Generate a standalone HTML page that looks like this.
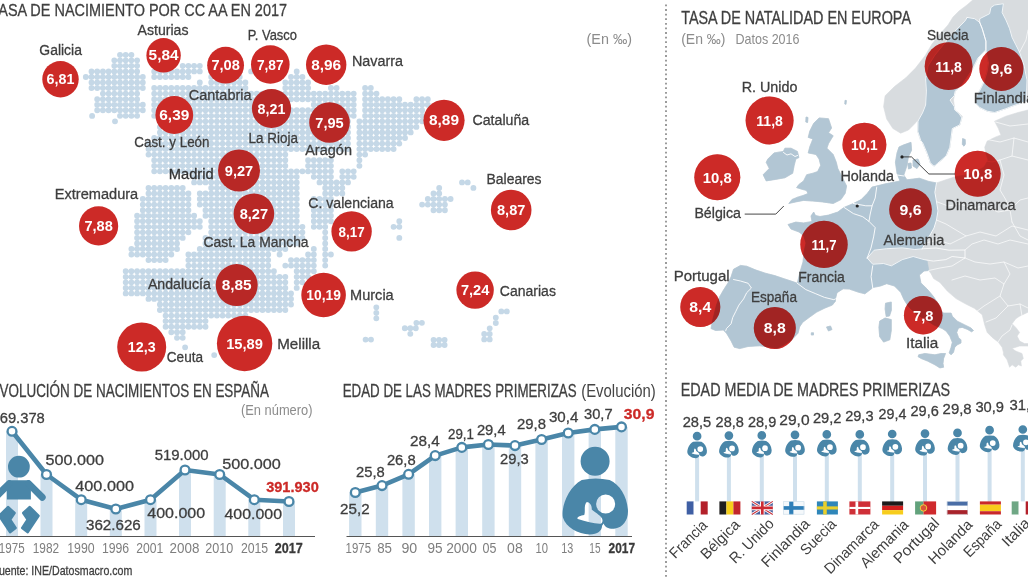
<!DOCTYPE html>
<html lang="es">
<head>
<meta charset="utf-8">
<title>Tasa de nacimiento por CC AA en 2017</title>
<style>
html,body{margin:0;padding:0;background:#fff;}
body{width:1028px;height:578px;overflow:hidden;font-family:"Liberation Sans",sans-serif;}
svg{display:block;font-family:"Liberation Sans",sans-serif;}
</style>
</head>
<body>
<svg width="1028" height="578" viewBox="0 0 1028 578">
<rect width="1028" height="578" fill="#fff"/>
<defs><filter id="soft" x="-2%" y="-2%" width="104%" height="104%"><feGaussianBlur stdDeviation="0.5"/></filter></defs><path d="M85.8 77.0h.01M91.5 71.4h.01M91.5 77.0h.01M91.5 82.5h.01M91.5 88.0h.01M97.2 71.4h.01M97.2 77.0h.01M97.2 82.5h.01M97.2 88.0h.01M97.2 99.2h.01M97.2 104.7h.01M97.2 110.2h.01M102.9 71.4h.01M102.9 77.0h.01M102.9 82.5h.01M102.9 88.0h.01M102.9 93.6h.01M102.9 99.2h.01M102.9 104.7h.01M102.9 110.2h.01M108.6 71.4h.01M108.6 77.0h.01M108.6 82.5h.01M108.6 88.0h.01M108.6 93.6h.01M108.6 99.2h.01M108.6 104.7h.01M108.6 110.2h.01M114.3 60.3h.01M114.3 65.8h.01M114.3 71.4h.01M114.3 77.0h.01M114.3 82.5h.01M114.3 88.0h.01M114.3 93.6h.01M114.3 99.2h.01M114.3 104.7h.01M114.3 110.2h.01M120.0 54.8h.01M120.0 60.3h.01M120.0 65.8h.01M120.0 71.4h.01M120.0 77.0h.01M120.0 82.5h.01M120.0 88.0h.01M120.0 93.6h.01M120.0 99.2h.01M120.0 104.7h.01M120.0 110.2h.01M120.0 115.8h.01M125.7 54.8h.01M125.7 60.3h.01M125.7 65.8h.01M125.7 71.4h.01M125.7 77.0h.01M125.7 82.5h.01M125.7 88.0h.01M125.7 93.6h.01M125.7 99.2h.01M125.7 104.7h.01M125.7 110.2h.01M125.7 115.8h.01M125.7 271.2h.01M125.7 276.8h.01M125.7 282.3h.01M125.7 287.9h.01M125.7 293.4h.01M131.4 54.8h.01M131.4 60.3h.01M131.4 65.8h.01M131.4 71.4h.01M131.4 77.0h.01M131.4 82.5h.01M131.4 88.0h.01M131.4 93.6h.01M131.4 99.2h.01M131.4 104.7h.01M131.4 110.2h.01M131.4 115.8h.01M131.4 249.0h.01M131.4 254.5h.01M131.4 271.2h.01M131.4 276.8h.01M131.4 282.3h.01M131.4 287.9h.01M131.4 293.4h.01M137.1 60.3h.01M137.1 65.8h.01M137.1 71.4h.01M137.1 77.0h.01M137.1 82.5h.01M137.1 88.0h.01M137.1 93.6h.01M137.1 99.2h.01M137.1 104.7h.01M137.1 110.2h.01M137.1 115.8h.01M137.1 215.7h.01M137.1 221.2h.01M137.1 226.8h.01M137.1 232.3h.01M137.1 237.9h.01M137.1 243.4h.01M137.1 249.0h.01M137.1 254.5h.01M137.1 271.2h.01M137.1 276.8h.01M137.1 282.3h.01M137.1 287.9h.01M137.1 293.4h.01M142.8 77.0h.01M142.8 82.5h.01M142.8 88.0h.01M142.8 104.7h.01M142.8 110.2h.01M142.8 199.0h.01M142.8 204.6h.01M142.8 210.2h.01M142.8 215.7h.01M142.8 221.2h.01M142.8 226.8h.01M142.8 232.3h.01M142.8 237.9h.01M142.8 243.4h.01M142.8 249.0h.01M142.8 254.5h.01M142.8 271.2h.01M142.8 276.8h.01M142.8 282.3h.01M142.8 287.9h.01M142.8 293.4h.01M148.5 143.6h.01M148.5 149.1h.01M148.5 154.6h.01M148.5 187.9h.01M148.5 193.5h.01M148.5 199.0h.01M148.5 204.6h.01M148.5 210.2h.01M148.5 215.7h.01M148.5 221.2h.01M148.5 226.8h.01M148.5 232.3h.01M148.5 237.9h.01M148.5 243.4h.01M148.5 249.0h.01M148.5 254.5h.01M148.5 260.1h.01M148.5 271.2h.01M148.5 276.8h.01M148.5 282.3h.01M148.5 287.9h.01M148.5 293.4h.01M148.5 298.9h.01M154.2 71.4h.01M154.2 77.0h.01M154.2 88.0h.01M154.2 93.6h.01M154.2 99.2h.01M154.2 104.7h.01M154.2 110.2h.01M154.2 115.8h.01M154.2 138.0h.01M154.2 143.6h.01M154.2 149.1h.01M154.2 154.6h.01M154.2 160.2h.01M154.2 165.8h.01M154.2 171.3h.01M154.2 187.9h.01M154.2 193.5h.01M154.2 199.0h.01M154.2 204.6h.01M154.2 210.2h.01M154.2 215.7h.01M154.2 221.2h.01M154.2 226.8h.01M154.2 232.3h.01M154.2 237.9h.01M154.2 243.4h.01M154.2 249.0h.01M154.2 254.5h.01M154.2 260.1h.01M154.2 271.2h.01M154.2 276.8h.01M154.2 282.3h.01M154.2 287.9h.01M154.2 293.4h.01M154.2 298.9h.01M159.9 71.4h.01M159.9 77.0h.01M159.9 88.0h.01M159.9 93.6h.01M159.9 99.2h.01M159.9 104.7h.01M159.9 110.2h.01M159.9 115.8h.01M159.9 121.3h.01M159.9 126.9h.01M159.9 132.4h.01M159.9 138.0h.01M159.9 143.6h.01M159.9 149.1h.01M159.9 154.6h.01M159.9 160.2h.01M159.9 165.8h.01M159.9 171.3h.01M159.9 187.9h.01M159.9 193.5h.01M159.9 199.0h.01M159.9 204.6h.01M159.9 210.2h.01M159.9 215.7h.01M159.9 221.2h.01M159.9 226.8h.01M159.9 232.3h.01M159.9 237.9h.01M159.9 243.4h.01M159.9 249.0h.01M159.9 254.5h.01M159.9 260.1h.01M159.9 271.2h.01M159.9 276.8h.01M159.9 282.3h.01M159.9 287.9h.01M159.9 293.4h.01M159.9 298.9h.01M159.9 304.5h.01M159.9 310.0h.01M165.6 71.4h.01M165.6 77.0h.01M165.6 88.0h.01M165.6 93.6h.01M165.6 99.2h.01M165.6 104.7h.01M165.6 110.2h.01M165.6 115.8h.01M165.6 121.3h.01M165.6 126.9h.01M165.6 132.4h.01M165.6 138.0h.01M165.6 143.6h.01M165.6 149.1h.01M165.6 154.6h.01M165.6 160.2h.01M165.6 165.8h.01M165.6 171.3h.01M165.6 187.9h.01M165.6 193.5h.01M165.6 199.0h.01M165.6 204.6h.01M165.6 210.2h.01M165.6 215.7h.01M165.6 221.2h.01M165.6 226.8h.01M165.6 232.3h.01M165.6 237.9h.01M165.6 243.4h.01M165.6 249.0h.01M165.6 254.5h.01M165.6 260.1h.01M165.6 271.2h.01M165.6 276.8h.01M165.6 282.3h.01M165.6 287.9h.01M165.6 293.4h.01M165.6 298.9h.01M165.6 304.5h.01M165.6 310.0h.01M165.6 315.6h.01M165.6 321.1h.01M165.6 326.7h.01M171.3 71.4h.01M171.3 77.0h.01M171.3 88.0h.01M171.3 93.6h.01M171.3 99.2h.01M171.3 104.7h.01M171.3 110.2h.01M171.3 115.8h.01M171.3 121.3h.01M171.3 126.9h.01M171.3 132.4h.01M171.3 138.0h.01M171.3 143.6h.01M171.3 149.1h.01M171.3 154.6h.01M171.3 160.2h.01M171.3 165.8h.01M171.3 171.3h.01M171.3 187.9h.01M171.3 193.5h.01M171.3 199.0h.01M171.3 204.6h.01M171.3 210.2h.01M171.3 215.7h.01M171.3 221.2h.01M171.3 226.8h.01M171.3 232.3h.01M171.3 237.9h.01M171.3 243.4h.01M171.3 249.0h.01M171.3 254.5h.01M171.3 271.2h.01M171.3 276.8h.01M171.3 282.3h.01M171.3 287.9h.01M171.3 293.4h.01M171.3 298.9h.01M171.3 304.5h.01M171.3 310.0h.01M171.3 315.6h.01M171.3 321.1h.01M171.3 326.7h.01M171.3 332.2h.01M177.0 71.4h.01M177.0 77.0h.01M177.0 88.0h.01M177.0 93.6h.01M177.0 99.2h.01M177.0 104.7h.01M177.0 110.2h.01M177.0 115.8h.01M177.0 121.3h.01M177.0 126.9h.01M177.0 132.4h.01M177.0 138.0h.01M177.0 143.6h.01M177.0 149.1h.01M177.0 154.6h.01M177.0 160.2h.01M177.0 165.8h.01M177.0 171.3h.01M177.0 187.9h.01M177.0 193.5h.01M177.0 199.0h.01M177.0 204.6h.01M177.0 210.2h.01M177.0 215.7h.01M177.0 221.2h.01M177.0 226.8h.01M177.0 232.3h.01M177.0 237.9h.01M177.0 243.4h.01M177.0 249.0h.01M177.0 271.2h.01M177.0 276.8h.01M177.0 282.3h.01M177.0 287.9h.01M177.0 293.4h.01M177.0 298.9h.01M177.0 304.5h.01M177.0 310.0h.01M177.0 315.6h.01M177.0 321.1h.01M177.0 326.7h.01M177.0 332.2h.01M177.0 337.8h.01M182.7 65.8h.01M182.7 71.4h.01M182.7 77.0h.01M182.7 88.0h.01M182.7 93.6h.01M182.7 99.2h.01M182.7 104.7h.01M182.7 110.2h.01M182.7 115.8h.01M182.7 121.3h.01M182.7 126.9h.01M182.7 132.4h.01M182.7 138.0h.01M182.7 143.6h.01M182.7 149.1h.01M182.7 154.6h.01M182.7 160.2h.01M182.7 165.8h.01M182.7 171.3h.01M182.7 187.9h.01M182.7 193.5h.01M182.7 199.0h.01M182.7 204.6h.01M182.7 210.2h.01M182.7 215.7h.01M182.7 221.2h.01M182.7 226.8h.01M182.7 232.3h.01M182.7 237.9h.01M182.7 271.2h.01M182.7 276.8h.01M182.7 282.3h.01M182.7 287.9h.01M182.7 293.4h.01M182.7 298.9h.01M182.7 304.5h.01M182.7 310.0h.01M182.7 315.6h.01M182.7 321.1h.01M182.7 326.7h.01M182.7 332.2h.01M182.7 337.8h.01M188.4 65.8h.01M188.4 71.4h.01M188.4 77.0h.01M188.4 88.0h.01M188.4 93.6h.01M188.4 99.2h.01M188.4 104.7h.01M188.4 110.2h.01M188.4 115.8h.01M188.4 121.3h.01M188.4 126.9h.01M188.4 132.4h.01M188.4 138.0h.01M188.4 143.6h.01M188.4 149.1h.01M188.4 154.6h.01M188.4 160.2h.01M188.4 165.8h.01M188.4 171.3h.01M188.4 193.5h.01M188.4 199.0h.01M188.4 204.6h.01M188.4 210.2h.01M188.4 215.7h.01M188.4 221.2h.01M188.4 226.8h.01M188.4 232.3h.01M188.4 254.5h.01M188.4 260.1h.01M188.4 265.6h.01M188.4 271.2h.01M188.4 276.8h.01M188.4 282.3h.01M188.4 287.9h.01M188.4 293.4h.01M188.4 298.9h.01M188.4 304.5h.01M188.4 310.0h.01M188.4 315.6h.01M188.4 321.1h.01M188.4 326.7h.01M194.1 65.8h.01M194.1 71.4h.01M194.1 88.0h.01M194.1 93.6h.01M194.1 99.2h.01M194.1 104.7h.01M194.1 110.2h.01M194.1 115.8h.01M194.1 121.3h.01M194.1 126.9h.01M194.1 132.4h.01M194.1 138.0h.01M194.1 143.6h.01M194.1 149.1h.01M194.1 154.6h.01M194.1 160.2h.01M194.1 165.8h.01M194.1 171.3h.01M194.1 176.8h.01M194.1 182.4h.01M194.1 215.7h.01M194.1 221.2h.01M194.1 226.8h.01M194.1 254.5h.01M194.1 260.1h.01M194.1 265.6h.01M194.1 271.2h.01M194.1 276.8h.01M194.1 282.3h.01M194.1 287.9h.01M194.1 293.4h.01M194.1 298.9h.01M194.1 304.5h.01M194.1 310.0h.01M194.1 315.6h.01M194.1 321.1h.01M194.1 326.7h.01M199.8 65.8h.01M199.8 71.4h.01M199.8 82.5h.01M199.8 88.0h.01M199.8 93.6h.01M199.8 99.2h.01M199.8 104.7h.01M199.8 110.2h.01M199.8 115.8h.01M199.8 121.3h.01M199.8 126.9h.01M199.8 132.4h.01M199.8 138.0h.01M199.8 143.6h.01M199.8 149.1h.01M199.8 154.6h.01M199.8 160.2h.01M199.8 165.8h.01M199.8 171.3h.01M199.8 176.8h.01M199.8 182.4h.01M199.8 193.5h.01M199.8 199.0h.01M199.8 204.6h.01M199.8 221.2h.01M199.8 226.8h.01M199.8 249.0h.01M199.8 254.5h.01M199.8 260.1h.01M199.8 265.6h.01M199.8 271.2h.01M199.8 276.8h.01M199.8 282.3h.01M199.8 287.9h.01M199.8 293.4h.01M199.8 298.9h.01M199.8 304.5h.01M199.8 310.0h.01M199.8 315.6h.01M199.8 321.1h.01M199.8 326.7h.01M205.5 88.0h.01M205.5 93.6h.01M205.5 99.2h.01M205.5 104.7h.01M205.5 110.2h.01M205.5 115.8h.01M205.5 121.3h.01M205.5 126.9h.01M205.5 132.4h.01M205.5 138.0h.01M205.5 143.6h.01M205.5 149.1h.01M205.5 154.6h.01M205.5 160.2h.01M205.5 165.8h.01M205.5 171.3h.01M205.5 176.8h.01M205.5 182.4h.01M205.5 193.5h.01M205.5 199.0h.01M205.5 204.6h.01M205.5 210.2h.01M205.5 215.7h.01M205.5 237.9h.01M205.5 243.4h.01M205.5 249.0h.01M205.5 254.5h.01M205.5 260.1h.01M205.5 265.6h.01M205.5 271.2h.01M205.5 276.8h.01M205.5 282.3h.01M205.5 287.9h.01M205.5 293.4h.01M205.5 298.9h.01M205.5 304.5h.01M205.5 310.0h.01M205.5 315.6h.01M205.5 321.1h.01M205.5 326.7h.01M211.2 65.8h.01M211.2 71.4h.01M211.2 77.0h.01M211.2 82.5h.01M211.2 88.0h.01M211.2 93.6h.01M211.2 99.2h.01M211.2 104.7h.01M211.2 110.2h.01M211.2 115.8h.01M211.2 121.3h.01M211.2 126.9h.01M211.2 132.4h.01M211.2 138.0h.01M211.2 143.6h.01M211.2 149.1h.01M211.2 154.6h.01M211.2 160.2h.01M211.2 165.8h.01M211.2 171.3h.01M211.2 176.8h.01M211.2 182.4h.01M211.2 187.9h.01M211.2 193.5h.01M211.2 199.0h.01M211.2 204.6h.01M211.2 210.2h.01M211.2 215.7h.01M211.2 221.2h.01M211.2 226.8h.01M211.2 232.3h.01M211.2 237.9h.01M211.2 243.4h.01M211.2 249.0h.01M211.2 254.5h.01M211.2 260.1h.01M211.2 265.6h.01M211.2 271.2h.01M211.2 276.8h.01M211.2 282.3h.01M211.2 287.9h.01M211.2 293.4h.01M211.2 298.9h.01M211.2 304.5h.01M211.2 310.0h.01M211.2 315.6h.01M216.9 65.8h.01M216.9 71.4h.01M216.9 77.0h.01M216.9 82.5h.01M216.9 88.0h.01M216.9 93.6h.01M216.9 99.2h.01M216.9 104.7h.01M216.9 110.2h.01M216.9 115.8h.01M216.9 121.3h.01M216.9 126.9h.01M216.9 132.4h.01M216.9 138.0h.01M216.9 143.6h.01M216.9 149.1h.01M216.9 154.6h.01M216.9 160.2h.01M216.9 165.8h.01M216.9 171.3h.01M216.9 176.8h.01M216.9 182.4h.01M216.9 187.9h.01M216.9 193.5h.01M216.9 199.0h.01M216.9 204.6h.01M216.9 210.2h.01M216.9 215.7h.01M216.9 221.2h.01M216.9 226.8h.01M216.9 232.3h.01M216.9 237.9h.01M216.9 243.4h.01M216.9 249.0h.01M216.9 254.5h.01M216.9 260.1h.01M216.9 265.6h.01M216.9 271.2h.01M216.9 276.8h.01M216.9 282.3h.01M216.9 287.9h.01M216.9 293.4h.01M216.9 298.9h.01M216.9 304.5h.01M216.9 310.0h.01M216.9 315.6h.01M222.6 65.8h.01M222.6 71.4h.01M222.6 77.0h.01M222.6 82.5h.01M222.6 88.0h.01M222.6 93.6h.01M222.6 99.2h.01M222.6 104.7h.01M222.6 110.2h.01M222.6 115.8h.01M222.6 121.3h.01M222.6 126.9h.01M222.6 132.4h.01M222.6 138.0h.01M222.6 143.6h.01M222.6 149.1h.01M222.6 154.6h.01M222.6 160.2h.01M222.6 165.8h.01M222.6 171.3h.01M222.6 176.8h.01M222.6 182.4h.01M222.6 187.9h.01M222.6 193.5h.01M222.6 199.0h.01M222.6 204.6h.01M222.6 210.2h.01M222.6 215.7h.01M222.6 221.2h.01M222.6 226.8h.01M222.6 232.3h.01M222.6 237.9h.01M222.6 243.4h.01M222.6 249.0h.01M222.6 254.5h.01M222.6 260.1h.01M222.6 265.6h.01M222.6 271.2h.01M222.6 276.8h.01M222.6 282.3h.01M222.6 287.9h.01M222.6 293.4h.01M222.6 298.9h.01M222.6 304.5h.01M222.6 310.0h.01M222.6 315.6h.01M228.3 65.8h.01M228.3 71.4h.01M228.3 77.0h.01M228.3 82.5h.01M228.3 88.0h.01M228.3 93.6h.01M228.3 99.2h.01M228.3 104.7h.01M228.3 110.2h.01M228.3 115.8h.01M228.3 121.3h.01M228.3 126.9h.01M228.3 132.4h.01M228.3 138.0h.01M228.3 143.6h.01M228.3 149.1h.01M228.3 154.6h.01M228.3 160.2h.01M228.3 165.8h.01M228.3 171.3h.01M228.3 176.8h.01M228.3 182.4h.01M228.3 187.9h.01M228.3 193.5h.01M228.3 199.0h.01M228.3 204.6h.01M228.3 210.2h.01M228.3 215.7h.01M228.3 221.2h.01M228.3 226.8h.01M228.3 232.3h.01M228.3 237.9h.01M228.3 243.4h.01M228.3 249.0h.01M228.3 254.5h.01M228.3 260.1h.01M228.3 265.6h.01M228.3 271.2h.01M228.3 276.8h.01M228.3 282.3h.01M228.3 287.9h.01M228.3 293.4h.01M228.3 298.9h.01M228.3 304.5h.01M228.3 310.0h.01M228.3 315.6h.01M234.0 65.8h.01M234.0 71.4h.01M234.0 77.0h.01M234.0 82.5h.01M234.0 88.0h.01M234.0 93.6h.01M234.0 99.2h.01M234.0 104.7h.01M234.0 110.2h.01M234.0 115.8h.01M234.0 121.3h.01M234.0 126.9h.01M234.0 132.4h.01M234.0 138.0h.01M234.0 143.6h.01M234.0 149.1h.01M234.0 154.6h.01M234.0 160.2h.01M234.0 165.8h.01M234.0 171.3h.01M234.0 176.8h.01M234.0 182.4h.01M234.0 187.9h.01M234.0 193.5h.01M234.0 199.0h.01M234.0 204.6h.01M234.0 210.2h.01M234.0 215.7h.01M234.0 221.2h.01M234.0 226.8h.01M234.0 232.3h.01M234.0 237.9h.01M234.0 243.4h.01M234.0 249.0h.01M234.0 254.5h.01M234.0 260.1h.01M234.0 265.6h.01M234.0 271.2h.01M234.0 276.8h.01M234.0 282.3h.01M234.0 287.9h.01M234.0 293.4h.01M234.0 298.9h.01M234.0 304.5h.01M234.0 310.0h.01M234.0 315.6h.01M239.7 65.8h.01M239.7 71.4h.01M239.7 77.0h.01M239.7 82.5h.01M239.7 88.0h.01M239.7 93.6h.01M239.7 99.2h.01M239.7 104.7h.01M239.7 110.2h.01M239.7 115.8h.01M239.7 121.3h.01M239.7 126.9h.01M239.7 132.4h.01M239.7 138.0h.01M239.7 143.6h.01M239.7 149.1h.01M239.7 154.6h.01M239.7 160.2h.01M239.7 165.8h.01M239.7 171.3h.01M239.7 176.8h.01M239.7 182.4h.01M239.7 187.9h.01M239.7 193.5h.01M239.7 199.0h.01M239.7 204.6h.01M239.7 210.2h.01M239.7 215.7h.01M239.7 221.2h.01M239.7 226.8h.01M239.7 232.3h.01M239.7 237.9h.01M239.7 243.4h.01M239.7 249.0h.01M239.7 254.5h.01M239.7 260.1h.01M239.7 265.6h.01M239.7 271.2h.01M239.7 276.8h.01M239.7 282.3h.01M239.7 287.9h.01M239.7 293.4h.01M239.7 298.9h.01M239.7 304.5h.01M239.7 310.0h.01M239.7 315.6h.01M245.4 82.5h.01M245.4 88.0h.01M245.4 93.6h.01M245.4 99.2h.01M245.4 104.7h.01M245.4 110.2h.01M245.4 115.8h.01M245.4 121.3h.01M245.4 126.9h.01M245.4 132.4h.01M245.4 138.0h.01M245.4 143.6h.01M245.4 149.1h.01M245.4 154.6h.01M245.4 160.2h.01M245.4 165.8h.01M245.4 171.3h.01M245.4 176.8h.01M245.4 182.4h.01M245.4 187.9h.01M245.4 193.5h.01M245.4 199.0h.01M245.4 204.6h.01M245.4 210.2h.01M245.4 215.7h.01M245.4 221.2h.01M245.4 226.8h.01M245.4 232.3h.01M245.4 237.9h.01M245.4 243.4h.01M245.4 249.0h.01M245.4 254.5h.01M245.4 260.1h.01M245.4 265.6h.01M245.4 271.2h.01M245.4 276.8h.01M245.4 282.3h.01M245.4 287.9h.01M245.4 293.4h.01M245.4 298.9h.01M245.4 304.5h.01M245.4 310.0h.01M245.4 315.6h.01M251.1 71.4h.01M251.1 93.6h.01M251.1 99.2h.01M251.1 104.7h.01M251.1 110.2h.01M251.1 115.8h.01M251.1 121.3h.01M251.1 126.9h.01M251.1 132.4h.01M251.1 138.0h.01M251.1 143.6h.01M251.1 149.1h.01M251.1 154.6h.01M251.1 160.2h.01M251.1 165.8h.01M251.1 171.3h.01M251.1 176.8h.01M251.1 182.4h.01M251.1 187.9h.01M251.1 193.5h.01M251.1 199.0h.01M251.1 204.6h.01M251.1 210.2h.01M251.1 215.7h.01M251.1 221.2h.01M251.1 226.8h.01M251.1 232.3h.01M251.1 237.9h.01M251.1 243.4h.01M251.1 249.0h.01M251.1 254.5h.01M251.1 260.1h.01M251.1 265.6h.01M251.1 271.2h.01M251.1 276.8h.01M251.1 282.3h.01M251.1 287.9h.01M251.1 293.4h.01M251.1 298.9h.01M251.1 304.5h.01M251.1 310.0h.01M256.8 71.4h.01M256.8 93.6h.01M256.8 99.2h.01M256.8 104.7h.01M256.8 110.2h.01M256.8 115.8h.01M256.8 121.3h.01M256.8 126.9h.01M256.8 132.4h.01M256.8 138.0h.01M256.8 143.6h.01M256.8 149.1h.01M256.8 154.6h.01M256.8 160.2h.01M256.8 165.8h.01M256.8 171.3h.01M256.8 176.8h.01M256.8 182.4h.01M256.8 187.9h.01M256.8 193.5h.01M256.8 199.0h.01M256.8 204.6h.01M256.8 210.2h.01M256.8 215.7h.01M256.8 221.2h.01M256.8 226.8h.01M256.8 232.3h.01M256.8 237.9h.01M256.8 243.4h.01M256.8 249.0h.01M256.8 254.5h.01M256.8 260.1h.01M256.8 265.6h.01M256.8 271.2h.01M256.8 276.8h.01M256.8 282.3h.01M256.8 287.9h.01M256.8 293.4h.01M256.8 298.9h.01M256.8 304.5h.01M256.8 310.0h.01M262.5 71.4h.01M262.5 93.6h.01M262.5 99.2h.01M262.5 104.7h.01M262.5 110.2h.01M262.5 115.8h.01M262.5 121.3h.01M262.5 126.9h.01M262.5 132.4h.01M262.5 138.0h.01M262.5 143.6h.01M262.5 149.1h.01M262.5 154.6h.01M262.5 160.2h.01M262.5 165.8h.01M262.5 171.3h.01M262.5 176.8h.01M262.5 182.4h.01M262.5 187.9h.01M262.5 193.5h.01M262.5 199.0h.01M262.5 204.6h.01M262.5 210.2h.01M262.5 215.7h.01M262.5 221.2h.01M262.5 226.8h.01M262.5 232.3h.01M262.5 237.9h.01M262.5 243.4h.01M262.5 249.0h.01M262.5 254.5h.01M262.5 260.1h.01M262.5 265.6h.01M262.5 271.2h.01M262.5 276.8h.01M262.5 282.3h.01M262.5 287.9h.01M262.5 293.4h.01M262.5 298.9h.01M262.5 304.5h.01M262.5 310.0h.01M268.2 71.4h.01M268.2 93.6h.01M268.2 99.2h.01M268.2 104.7h.01M268.2 110.2h.01M268.2 115.8h.01M268.2 121.3h.01M268.2 126.9h.01M268.2 132.4h.01M268.2 138.0h.01M268.2 143.6h.01M268.2 149.1h.01M268.2 154.6h.01M268.2 160.2h.01M268.2 165.8h.01M268.2 171.3h.01M268.2 176.8h.01M268.2 182.4h.01M268.2 187.9h.01M268.2 193.5h.01M268.2 199.0h.01M268.2 204.6h.01M268.2 210.2h.01M268.2 215.7h.01M268.2 221.2h.01M268.2 226.8h.01M268.2 232.3h.01M268.2 237.9h.01M268.2 243.4h.01M268.2 249.0h.01M268.2 254.5h.01M268.2 260.1h.01M268.2 265.6h.01M268.2 271.2h.01M268.2 276.8h.01M268.2 282.3h.01M268.2 287.9h.01M268.2 293.4h.01M268.2 298.9h.01M268.2 304.5h.01M268.2 310.0h.01M273.9 71.4h.01M273.9 93.6h.01M273.9 99.2h.01M273.9 104.7h.01M273.9 110.2h.01M273.9 115.8h.01M273.9 121.3h.01M273.9 126.9h.01M273.9 132.4h.01M273.9 138.0h.01M273.9 143.6h.01M273.9 149.1h.01M273.9 154.6h.01M273.9 160.2h.01M273.9 165.8h.01M273.9 171.3h.01M273.9 176.8h.01M273.9 182.4h.01M273.9 187.9h.01M273.9 193.5h.01M273.9 199.0h.01M273.9 204.6h.01M273.9 210.2h.01M273.9 215.7h.01M273.9 221.2h.01M273.9 226.8h.01M273.9 232.3h.01M273.9 237.9h.01M273.9 243.4h.01M273.9 249.0h.01M273.9 271.2h.01M273.9 276.8h.01M273.9 282.3h.01M273.9 287.9h.01M273.9 293.4h.01M273.9 298.9h.01M273.9 304.5h.01M273.9 310.0h.01M279.6 71.4h.01M279.6 93.6h.01M279.6 99.2h.01M279.6 104.7h.01M279.6 110.2h.01M279.6 115.8h.01M279.6 121.3h.01M279.6 126.9h.01M279.6 132.4h.01M279.6 138.0h.01M279.6 143.6h.01M279.6 149.1h.01M279.6 154.6h.01M279.6 160.2h.01M279.6 165.8h.01M279.6 171.3h.01M279.6 176.8h.01M279.6 182.4h.01M279.6 187.9h.01M279.6 193.5h.01M279.6 199.0h.01M279.6 204.6h.01M279.6 210.2h.01M279.6 215.7h.01M279.6 221.2h.01M279.6 226.8h.01M279.6 232.3h.01M279.6 237.9h.01M279.6 243.4h.01M279.6 249.0h.01M279.6 254.5h.01M279.6 276.8h.01M279.6 282.3h.01M279.6 287.9h.01M279.6 293.4h.01M279.6 298.9h.01M279.6 304.5h.01M279.6 310.0h.01M285.3 82.5h.01M285.3 88.0h.01M285.3 93.6h.01M285.3 99.2h.01M285.3 110.2h.01M285.3 115.8h.01M285.3 121.3h.01M285.3 126.9h.01M285.3 132.4h.01M285.3 138.0h.01M285.3 143.6h.01M285.3 149.1h.01M285.3 154.6h.01M285.3 160.2h.01M285.3 165.8h.01M285.3 171.3h.01M285.3 176.8h.01M285.3 182.4h.01M285.3 187.9h.01M285.3 193.5h.01M285.3 199.0h.01M285.3 204.6h.01M285.3 210.2h.01M285.3 215.7h.01M285.3 221.2h.01M285.3 226.8h.01M285.3 232.3h.01M285.3 237.9h.01M285.3 243.4h.01M285.3 249.0h.01M285.3 265.6h.01M285.3 276.8h.01M285.3 282.3h.01M285.3 287.9h.01M285.3 293.4h.01M285.3 298.9h.01M285.3 304.5h.01M285.3 310.0h.01M291.0 77.0h.01M291.0 82.5h.01M291.0 88.0h.01M291.0 93.6h.01M291.0 99.2h.01M291.0 110.2h.01M291.0 115.8h.01M291.0 121.3h.01M291.0 126.9h.01M291.0 132.4h.01M291.0 138.0h.01M291.0 143.6h.01M291.0 149.1h.01M291.0 171.3h.01M291.0 176.8h.01M291.0 182.4h.01M291.0 187.9h.01M291.0 193.5h.01M291.0 199.0h.01M291.0 204.6h.01M291.0 210.2h.01M291.0 215.7h.01M291.0 221.2h.01M291.0 226.8h.01M291.0 232.3h.01M291.0 237.9h.01M291.0 243.4h.01M291.0 260.1h.01M291.0 265.6h.01M291.0 293.4h.01M291.0 298.9h.01M291.0 304.5h.01M296.7 71.4h.01M296.7 77.0h.01M296.7 82.5h.01M296.7 88.0h.01M296.7 93.6h.01M296.7 99.2h.01M296.7 110.2h.01M296.7 115.8h.01M296.7 121.3h.01M296.7 126.9h.01M296.7 132.4h.01M296.7 138.0h.01M296.7 143.6h.01M296.7 149.1h.01M296.7 171.3h.01M296.7 176.8h.01M296.7 182.4h.01M296.7 187.9h.01M296.7 193.5h.01M296.7 199.0h.01M296.7 204.6h.01M296.7 210.2h.01M296.7 215.7h.01M296.7 221.2h.01M296.7 226.8h.01M296.7 232.3h.01M296.7 237.9h.01M296.7 243.4h.01M296.7 260.1h.01M296.7 265.6h.01M296.7 271.2h.01M296.7 276.8h.01M296.7 282.3h.01M296.7 287.9h.01M302.4 77.0h.01M302.4 82.5h.01M302.4 88.0h.01M302.4 93.6h.01M302.4 99.2h.01M302.4 110.2h.01M302.4 115.8h.01M302.4 121.3h.01M302.4 126.9h.01M302.4 132.4h.01M302.4 138.0h.01M302.4 143.6h.01M302.4 149.1h.01M302.4 171.3h.01M302.4 226.8h.01M302.4 232.3h.01M302.4 237.9h.01M302.4 260.1h.01M302.4 265.6h.01M302.4 271.2h.01M302.4 276.8h.01M302.4 282.3h.01M308.1 82.5h.01M308.1 88.0h.01M308.1 93.6h.01M308.1 99.2h.01M308.1 110.2h.01M308.1 115.8h.01M308.1 121.3h.01M308.1 126.9h.01M308.1 132.4h.01M308.1 138.0h.01M308.1 143.6h.01M308.1 149.1h.01M308.1 160.2h.01M308.1 165.8h.01M308.1 171.3h.01M308.1 254.5h.01M308.1 260.1h.01M308.1 265.6h.01M308.1 271.2h.01M308.1 276.8h.01M313.8 93.6h.01M313.8 99.2h.01M313.8 104.7h.01M313.8 110.2h.01M313.8 115.8h.01M313.8 121.3h.01M313.8 126.9h.01M313.8 132.4h.01M313.8 138.0h.01M313.8 143.6h.01M313.8 149.1h.01M313.8 160.2h.01M313.8 165.8h.01M313.8 171.3h.01M313.8 176.8h.01M313.8 199.0h.01M313.8 204.6h.01M313.8 210.2h.01M313.8 215.7h.01M313.8 221.2h.01M313.8 226.8h.01M313.8 249.0h.01M313.8 254.5h.01M313.8 260.1h.01M313.8 265.6h.01M313.8 271.2h.01M319.5 93.6h.01M319.5 99.2h.01M319.5 104.7h.01M319.5 110.2h.01M319.5 115.8h.01M319.5 121.3h.01M319.5 126.9h.01M319.5 132.4h.01M319.5 138.0h.01M319.5 143.6h.01M319.5 149.1h.01M319.5 160.2h.01M319.5 165.8h.01M319.5 171.3h.01M319.5 176.8h.01M319.5 182.4h.01M319.5 199.0h.01M319.5 204.6h.01M319.5 210.2h.01M319.5 215.7h.01M319.5 221.2h.01M319.5 226.8h.01M325.2 93.6h.01M325.2 99.2h.01M325.2 104.7h.01M325.2 110.2h.01M325.2 115.8h.01M325.2 121.3h.01M325.2 126.9h.01M325.2 132.4h.01M325.2 138.0h.01M325.2 143.6h.01M325.2 149.1h.01M325.2 160.2h.01M325.2 165.8h.01M325.2 171.3h.01M325.2 176.8h.01M325.2 182.4h.01M325.2 187.9h.01M325.2 193.5h.01M325.2 199.0h.01M325.2 204.6h.01M325.2 210.2h.01M325.2 215.7h.01M325.2 221.2h.01M325.2 226.8h.01M325.2 232.3h.01M325.2 237.9h.01M325.2 243.4h.01M325.2 249.0h.01M325.2 254.5h.01M325.2 260.1h.01M325.2 265.6h.01M330.9 88.0h.01M330.9 93.6h.01M330.9 99.2h.01M330.9 104.7h.01M330.9 110.2h.01M330.9 115.8h.01M330.9 121.3h.01M330.9 126.9h.01M330.9 132.4h.01M330.9 138.0h.01M330.9 143.6h.01M330.9 149.1h.01M330.9 160.2h.01M330.9 165.8h.01M330.9 171.3h.01M330.9 176.8h.01M330.9 182.4h.01M330.9 187.9h.01M330.9 193.5h.01M330.9 199.0h.01M330.9 204.6h.01M330.9 210.2h.01M330.9 215.7h.01M330.9 221.2h.01M330.9 254.5h.01M336.6 88.0h.01M336.6 93.6h.01M336.6 99.2h.01M336.6 104.7h.01M336.6 110.2h.01M336.6 115.8h.01M336.6 121.3h.01M336.6 126.9h.01M336.6 132.4h.01M336.6 138.0h.01M336.6 143.6h.01M336.6 149.1h.01M336.6 182.4h.01M336.6 187.9h.01M336.6 193.5h.01M342.3 93.6h.01M342.3 99.2h.01M342.3 104.7h.01M342.3 110.2h.01M342.3 115.8h.01M342.3 121.3h.01M342.3 126.9h.01M342.3 132.4h.01M342.3 138.0h.01M342.3 143.6h.01M342.3 149.1h.01M342.3 171.3h.01M342.3 176.8h.01M342.3 182.4h.01M342.3 187.9h.01M342.3 193.5h.01M348.0 93.6h.01M348.0 99.2h.01M348.0 104.7h.01M348.0 110.2h.01M348.0 115.8h.01M348.0 121.3h.01M348.0 126.9h.01M348.0 132.4h.01M348.0 138.0h.01M348.0 143.6h.01M348.0 149.1h.01M348.0 171.3h.01M348.0 176.8h.01M348.0 182.4h.01M353.7 93.6h.01M353.7 99.2h.01M353.7 104.7h.01M353.7 110.2h.01M353.7 115.8h.01M353.7 171.3h.01M353.7 176.8h.01M359.4 121.3h.01M359.4 126.9h.01M359.4 132.4h.01M359.4 138.0h.01M359.4 143.6h.01M359.4 149.1h.01M359.4 154.6h.01M359.4 160.2h.01M359.4 165.8h.01M365.1 88.0h.01M365.1 93.6h.01M365.1 99.2h.01M365.1 104.7h.01M365.1 110.2h.01M365.1 115.8h.01M365.1 121.3h.01M365.1 126.9h.01M365.1 132.4h.01M365.1 138.0h.01M365.1 143.6h.01M365.1 149.1h.01M365.1 154.6h.01M370.8 88.0h.01M370.8 93.6h.01M370.8 99.2h.01M370.8 104.7h.01M370.8 110.2h.01M370.8 115.8h.01M370.8 121.3h.01M370.8 126.9h.01M370.8 132.4h.01M370.8 138.0h.01M370.8 143.6h.01M370.8 149.1h.01M376.5 93.6h.01M376.5 99.2h.01M376.5 104.7h.01M376.5 110.2h.01M376.5 115.8h.01M376.5 121.3h.01M376.5 126.9h.01M376.5 132.4h.01M376.5 138.0h.01M376.5 143.6h.01M376.5 149.1h.01M382.2 99.2h.01M382.2 104.7h.01M382.2 110.2h.01M382.2 115.8h.01M382.2 121.3h.01M382.2 126.9h.01M382.2 132.4h.01M382.2 138.0h.01M382.2 143.6h.01M382.2 149.1h.01M387.9 99.2h.01M387.9 104.7h.01M387.9 110.2h.01M387.9 115.8h.01M387.9 121.3h.01M387.9 126.9h.01M387.9 132.4h.01M387.9 138.0h.01M387.9 143.6h.01M387.9 149.1h.01M393.6 99.2h.01M393.6 104.7h.01M393.6 110.2h.01M393.6 115.8h.01M393.6 121.3h.01M393.6 126.9h.01M393.6 132.4h.01M393.6 138.0h.01M393.6 143.6h.01M393.6 149.1h.01M399.3 99.2h.01M399.3 104.7h.01M399.3 110.2h.01M399.3 115.8h.01M399.3 121.3h.01M399.3 126.9h.01M399.3 132.4h.01M399.3 138.0h.01M399.3 143.6h.01M405.0 104.7h.01M405.0 110.2h.01M405.0 115.8h.01M405.0 121.3h.01M405.0 126.9h.01M405.0 132.4h.01M405.0 138.0h.01M410.7 104.7h.01M410.7 110.2h.01M410.7 115.8h.01M410.7 121.3h.01M410.7 126.9h.01M410.7 132.4h.01M416.4 99.2h.01M416.4 104.7h.01M416.4 110.2h.01M416.4 115.8h.01M416.4 121.3h.01M416.4 126.9h.01M422.1 99.2h.01M422.1 104.7h.01M422.1 110.2h.01M422.1 115.8h.01M422.1 121.3h.01M427.8 99.2h.01M427.8 104.7h.01M92.1 115.9h.01M115.0 121.3h.01M185.1 347.3h.01M214.2 355.1h.01M439.2 187.9h.01M433.5 193.5h.01M439.2 193.5h.01M427.8 199.0h.01M433.5 199.0h.01M439.2 199.0h.01M444.9 199.0h.01M450.6 199.0h.01M422.1 204.6h.01M427.8 204.6h.01M433.5 204.6h.01M439.2 204.6h.01M444.9 204.6h.01M433.5 210.2h.01M439.2 210.2h.01M444.9 210.2h.01M462.0 182.4h.01M467.7 182.4h.01M473.4 187.9h.01M399.3 221.2h.01M393.6 226.8h.01M399.3 226.8h.01M399.3 237.9h.01M376.3 307.3h.01M376.3 312.8h.01M376.3 318.3h.01M365.6 339.6h.01M371.0 339.6h.01M404.8 328.2h.01M410.3 328.2h.01M415.8 328.2h.01M410.3 333.8h.01M416.4 322.8h.01M421.9 322.8h.01M433.6 339.8h.01M439.1 339.8h.01M444.6 339.8h.01M433.6 345.0h.01M439.1 345.0h.01M444.6 345.0h.01M484.2 333.9h.01M489.7 333.9h.01M484.2 339.4h.01M489.7 339.4h.01M489.7 328.3h.01M495.8 323.0h.01M495.8 317.6h.01M501.3 311.4h.01M506.8 311.4h.01" fill="none" stroke="#c5d8e7" stroke-width="5.85" stroke-linecap="round" filter="url(#soft)"/>
<defs><clipPath id="euclip"><rect x="667" y="0" width="361" height="380"/></clipPath></defs><g clip-path="url(#euclip)"><path d="M844.8 104.0L846.0 104.3L846.4 100.6L845.0 100.3ZM807.6 122.5L808.0 117.5L806.0 117.0L805.8 122.0ZM809.8 146.7L808.2 152.9L816.0 154.5L819.1 159.1L820.7 165.4L817.6 171.6L812.9 173.2L806.7 174.7L803.6 180.9L798.9 184.5L796.6 187.6L801.0 189.0L806.5 190.5L808.0 193.5L803.0 195.5L797.4 197.2L792.0 199.5L788.8 203.5L795.8 201.9L803.6 200.4L812.9 201.1L822.3 201.9L833.2 203.5L840.9 199.6L845.2 193.3L846.6 186.0L844.0 180.9L840.9 174.7L837.8 168.5L836.3 162.3L833.2 154.5L826.9 148.2L828.5 143.6L833.2 135.8L828.5 132.7L831.6 128.0L828.5 118.7L819.1 117.9L813.7 123.3L809.8 131.1L808.2 137.4L812.9 138.9ZM766.2 180.9L775.6 179.4L784.9 177.8L792.7 173.2L794.2 165.4L795.8 159.1L798.9 157.6L797.4 151.4L791.1 148.2L784.9 148.2L783.3 151.4L774.0 152.9L767.8 159.1L766.2 162.3L769.3 168.5L763.1 174.7ZM719.5 297.0L716.5 305.0L714.5 313.0L712.5 321.0L711.0 328.5L715.6 330.5L723.3 330.0L726.5 333.2L731.1 340.9L734.2 347.2L739.7 348.6L748.0 346.5L759.6 345.8L769.6 347.1L777.0 348.3L784.5 344.6L792.0 339.6L798.0 333.2L799.6 326.9L802.7 322.3L809.0 317.6L816.7 312.1L824.5 308.2L832.3 305.1L835.4 301.2L835.4 298.9L837.0 292.7L843.2 288.8L849.3 289.1L858.7 292.3L864.9 293.8L871.1 289.1L872.7 287.6L880.5 286.0L886.7 283.7L894.5 286.0L900.7 292.3L903.8 299.3L908.0 306.0L916.0 314.0L926.0 320.0L934.0 325.0L942.3 328.6L946.1 331.1L949.8 336.1L952.3 342.3L951.1 347.3L949.2 352.9L951.1 354.8L953.5 352.3L954.8 347.3L957.3 344.8L961.0 343.0L961.0 339.9L958.5 337.4L956.7 332.4L958.5 328.0L962.3 327.4L967.2 329.3L971.6 331.8L973.5 330.5L971.0 328.0L964.8 324.9L957.3 321.2L952.3 316.2L951.1 313.1L943.6 313.1L941.1 311.0L939.0 305.0L933.4 296.4L927.2 289.1L920.9 282.9L919.4 275.1L924.0 271.0L928.7 270.5L931.1 273.7L933.6 278.6L939.9 282.4L947.3 291.1L956.0 298.6L964.8 303.5L974.7 308.5L982.2 314.8L984.7 324.9L987.2 332.4L992.2 337.4L998.4 342.3L1002.1 347.3L1003.4 352.3L1003.4 354.8L1007.1 359.8L1009.6 367.2L1012.1 364.8L1015.8 367.2L1018.3 364.8L1021.4 366.0L1020.8 361.0L1023.3 358.5L1022.0 353.5L1015.8 351.1L1012.0 348.5L1019.6 346.0L1030.0 346.1L1030.0 343.6L1024.5 343.6L1019.6 341.1L1017.1 336.1L1019.6 332.4L1015.8 327.4L1012.1 323.7L1015.8 318.7L1019.6 316.2L1030.0 311.2L1030.0 109.5L1018.0 112.5L1005.9 116.2L994.6 121.2L998.4 128.6L1000.9 134.9L994.6 137.4L987.2 141.1L984.7 147.3L985.9 153.5L988.0 160.0L984.0 167.0L975.0 172.0L965.0 175.0L955.2 176.7L945.8 179.8L936.5 182.9L928.7 181.4L919.4 178.2L906.9 179.8L903.8 175.1L906.9 165.8L908.5 156.5L911.6 150.2L911.0 142.3L903.2 145.1L899.0 147.0L897.0 152.9L895.4 162.3L897.0 173.2L900.0 181.0L892.3 182.5L884.5 184.0L878.3 185.6L872.0 187.1L867.4 193.3L861.2 199.6L853.4 203.5L844.0 207.4L837.8 212.0L828.5 215.1L820.0 216.5L815.5 215.5L813.7 212.0L811.0 216.0L812.0 221.5L803.6 222.9L795.8 222.1L788.0 224.5L791.0 229.0L799.0 232.0L803.6 235.4L806.0 243.0L804.0 252.0L803.0 262.0L800.0 272.0L797.3 283.3L793.4 281.8L784.0 278.7L774.7 275.6L765.4 273.2L756.0 270.1L746.7 266.2L740.5 265.4L733.5 269.3L731.0 277.0L728.0 283.0L723.5 290.0ZM828.5 331.0L832.0 329.5L830.5 326.0L826.5 327.0ZM811.3 335.0L813.5 335.0L813.5 332.8L811.3 332.8ZM959.0 11.0L953.0 17.0L948.0 25.0L940.0 34.0L932.0 44.0L925.3 55.4L915.5 68.1L905.8 77.8L894.5 86.5L885.1 95.8L883.6 106.7L886.7 119.1L892.9 128.5L900.7 133.2L908.5 130.0L914.7 123.8L918.0 120.0L917.8 131.6L920.9 140.9L922.5 142.5L927.1 153.3L930.3 162.7L933.4 165.8L934.9 165.8L937.4 163.5L946.1 156.0L949.8 147.3L951.1 137.4L952.3 128.6L959.8 124.9L962.3 116.2L954.8 110.0L953.5 100.0L955.2 91.1L962.0 85.0L972.0 70.0L978.0 58.0L985.9 49.8L987.0 56.0L988.5 63.0L987.0 72.0L984.0 82.0L980.0 90.0L976.0 97.0L975.4 103.0L979.7 107.5L987.2 111.2L994.6 112.5L1005.9 108.7L1012.1 106.2L1030.0 100.0L1030.0 -2.0L975.0 -2.0L967.0 5.0ZM962.3 144.5L964.0 146.2L965.4 144.0L965.2 139.5L962.6 138.6ZM917.0 168.5L920.0 164.0L918.0 159.0L913.0 160.0L913.0 166.0ZM911.0 163.0L907.8 163.5L908.5 169.0L911.5 168.0ZM891.4 310.2L891.3 302.0L885.5 303.2L885.1 309.0L886.2 316.5L889.5 316.0ZM889.8 339.8L891.3 330.5L891.3 319.6L885.1 318.0L879.7 321.1L878.9 327.4L879.7 336.7L883.6 342.1ZM934.9 364.8L939.9 367.9L943.6 367.2L943.0 363.5L943.6 358.5L945.5 353.5L941.1 353.5L934.9 354.8L924.9 353.5L918.7 354.8L918.1 356.7L921.2 358.5L927.4 361.0Z" fill="#d8dcdf" stroke="#d8dcdf" stroke-width="0.6" stroke-linejoin="round"/><path d="M844.8 104.0L846.0 104.3L846.4 100.6L845.0 100.3ZM807.6 122.5L808.0 117.5L806.0 117.0L805.8 122.0ZM809.8 146.7L808.2 152.9L816.0 154.5L819.1 159.1L820.7 165.4L817.6 171.6L812.9 173.2L806.7 174.7L803.6 180.9L798.9 184.5L796.6 187.6L801.0 189.0L806.5 190.5L808.0 193.5L803.0 195.5L797.4 197.2L792.0 199.5L788.8 203.5L795.8 201.9L803.6 200.4L812.9 201.1L822.3 201.9L833.2 203.5L840.9 199.6L845.2 193.3L846.6 186.0L844.0 180.9L840.9 174.7L837.8 168.5L836.3 162.3L833.2 154.5L826.9 148.2L828.5 143.6L833.2 135.8L828.5 132.7L831.6 128.0L828.5 118.7L819.1 117.9L813.7 123.3L809.8 131.1L808.2 137.4L812.9 138.9ZM766.2 180.9L775.6 179.4L784.9 177.8L792.7 173.2L794.2 165.4L795.8 159.1L798.9 157.6L797.4 151.4L791.1 148.2L784.9 148.2L783.3 151.4L774.0 152.9L767.8 159.1L766.2 162.3L769.3 168.5L763.1 174.7ZM883.6 263.5L872.7 264.2L867.2 258.0L874.2 250.2L886.7 248.7L902.3 247.9L914.7 249.5L922.2 248.9L925.5 243.0L929.5 236.0L934.0 228.0L936.5 220.0L938.0 210.9L936.5 201.6L934.9 192.3L936.5 182.9L928.7 181.4L919.4 178.2L906.9 179.8L903.8 175.1L906.9 165.8L908.5 156.5L911.6 150.2L911.0 142.3L903.2 145.1L899.0 147.0L897.0 152.9L895.4 162.3L897.0 173.2L900.0 181.0L892.3 182.5L884.5 184.0L878.3 185.6L872.0 187.1L867.4 193.3L861.2 199.6L853.4 203.5L844.0 207.4L837.8 212.0L828.5 215.1L820.0 216.5L815.5 215.5L813.7 212.0L811.0 216.0L812.0 221.5L803.6 222.9L795.8 222.1L788.0 224.5L791.0 229.0L799.0 232.0L803.6 235.4L806.0 243.0L804.0 252.0L803.0 262.0L800.0 272.0L797.3 283.3L793.4 281.8L784.0 278.7L774.7 275.6L765.4 273.2L756.0 270.1L746.7 266.2L740.5 265.4L733.5 269.3L731.0 277.0L728.0 283.0L723.5 290.0L719.5 297.0L716.5 305.0L714.5 313.0L712.5 321.0L711.0 328.5L715.6 330.5L723.3 330.0L726.5 333.2L731.1 340.9L734.2 347.2L739.7 348.6L748.0 346.5L759.6 345.8L769.6 347.1L777.0 348.3L784.5 344.6L792.0 339.6L798.0 333.2L799.6 326.9L802.7 322.3L809.0 317.6L816.7 312.1L824.5 308.2L832.3 305.1L835.4 301.2L835.4 298.9L837.0 292.7L843.2 288.8L849.3 289.1L858.7 292.3L864.9 293.8L871.1 289.1L872.7 287.6L880.5 286.0L886.7 283.7L894.5 286.0L900.7 292.3L903.8 299.3L908.0 306.0L916.0 314.0L926.0 320.0L934.0 325.0L942.3 328.6L946.1 331.1L949.8 336.1L952.3 342.3L951.1 347.3L949.2 352.9L951.1 354.8L953.5 352.3L954.8 347.3L957.3 344.8L961.0 343.0L961.0 339.9L958.5 337.4L956.7 332.4L958.5 328.0L962.3 327.4L967.2 329.3L971.6 331.8L973.5 330.5L971.0 328.0L964.8 324.9L957.3 321.2L952.3 316.2L951.1 313.1L943.6 313.1L941.1 311.0L939.0 305.0L933.4 296.4L927.2 289.1L920.9 282.9L919.4 275.1L924.0 271.0L928.7 270.5L928.9 270.7L927.2 261.1L924.0 259.6L913.2 256.5L902.3 259.6L891.4 265.8ZM828.5 331.0L832.0 329.5L830.5 326.0L826.5 327.0ZM889.8 339.8L891.3 330.5L891.3 319.6L885.1 318.0L879.7 321.1L878.9 327.4L879.7 336.7L883.6 342.1ZM811.3 335.0L813.5 335.0L813.5 332.8L811.3 332.8ZM987.0 72.0L984.0 82.0L980.0 90.0L976.0 97.0L975.4 103.0L979.7 107.5L987.2 111.2L994.6 112.5L1005.9 108.7L1012.1 106.2L1025.9 101.4L1026.5 95.0L1027.0 80.0L1024.0 65.0L1019.6 52.3L1015.8 44.8L1012.1 37.4L1009.6 28.6L1005.9 19.9L1002.1 12.5L1003.4 3.7L994.6 5.0L990.9 7.5L989.6 13.7L979.7 18.7L979.7 22.4L974.7 18.7L967.2 17.4L964.8 21.2L956.0 29.9L947.3 39.9L935.0 55.0L928.0 66.0L925.6 78.7L926.4 91.1L925.6 105.1L922.5 112.9L918.5 120.0L918.0 121.6L917.8 131.6L920.9 140.9L922.5 142.5L927.1 153.3L930.3 162.7L933.4 165.8L934.9 165.8L937.4 163.5L946.1 156.0L949.8 147.3L951.1 137.4L952.3 128.6L959.8 124.9L961.8 117.8L959.0 113.4L954.8 110.0L954.3 106.5L950.0 100.0L954.3 95.7L955.2 91.1L962.0 85.0L972.0 70.0L978.0 58.0L985.9 49.8L987.0 56.0L988.5 63.0ZM962.3 144.5L964.0 146.2L965.4 144.0L965.2 139.5L962.6 138.6ZM917.0 168.5L920.0 164.0L918.0 159.0L913.0 160.0L913.0 166.0ZM911.0 163.0L907.8 163.5L908.5 169.0L911.5 168.0ZM891.4 310.2L891.3 302.0L885.5 303.2L885.1 309.0L886.2 316.5L889.5 316.0ZM934.9 364.8L939.9 367.9L943.6 367.2L943.0 363.5L943.6 358.5L945.5 353.5L941.1 353.5L934.9 354.8L924.9 353.5L918.7 354.8L918.1 356.7L921.2 358.5L927.4 361.0Z" fill="#b2c6d4" stroke="#b2c6d4" stroke-width="0.6" stroke-linejoin="round"/><g fill="none" stroke="#fff" stroke-width="0.9" stroke-linejoin="round" stroke-linecap="round"><polyline points="867.2,258.0 872.7,264.2 883.6,263.5 891.4,265.8 902.3,259.6 913.2,256.5 924.0,259.6 933.4,261.1 945.8,259.6 952.1,256.5 965.0,258.0 965.0,250.0 949.0,250.2 936.0,248.0 924.0,248.7 914.7,249.5 902.3,247.9 886.7,248.7 874.2,250.2 867.2,258.0" opacity="0.9"/><polyline points="967.2,17.4 964.8,21.2 956.0,29.9 947.3,39.9 935.0,55.0 928.0,66.0 925.6,78.7 926.4,91.1 925.6,105.1 922.5,112.9 918.5,120.0 918.0,121.6 917.8,131.6 920.9,140.9 922.5,142.5 927.1,153.3 930.3,162.7 933.4,165.8 934.9,165.8 937.4,163.5 946.1,156.0 949.8,147.3 951.1,137.4 952.3,128.6 959.8,124.9 961.8,117.8 959.0,113.4 954.8,110.0 954.3,106.5 950.0,100.0 954.3,95.7 955.2,91.1 962.0,85.0 972.0,70.0 978.0,58.0 985.9,49.8 985.9,41.1 982.2,28.6 979.7,22.4 974.7,18.7 967.2,17.4" opacity="0.9"/><polyline points="979.7,22.4 982.2,28.6 985.9,41.1 985.9,49.8 987.0,56.0 988.5,63.0 987.0,72.0 984.0,82.0 980.0,90.0 976.0,97.0 975.4,103.0 979.7,107.5 987.2,111.2 994.6,112.5 1005.9,108.7 1012.1,106.2 1025.9,101.4 1026.5,95.0 1027.0,80.0 1024.0,65.0 1019.6,52.3 1015.8,44.8 1012.1,37.4 1009.6,28.6 1005.9,19.9 1002.1,12.5 1003.4,3.7 994.6,5.0 990.9,7.5 989.6,13.7 979.7,18.7 979.7,22.4" opacity="0.9"/><polyline points="797.3,283.3 805.8,289.6 815.2,293.5 824.5,297.4 833.9,299.7 835.4,298.9"/><polyline points="733.5,279.5 740.5,281.0 748.2,283.3 751.4,288.0 746.7,292.7 743.6,298.9 738.9,305.1 735.8,311.4 732.7,317.6 731.1,323.8 726.5,328.5 725.7,330.8"/><polyline points="844.0,207.4 853.4,213.6 862.7,216.7 869.0,221.4 875.2,227.6 873.6,236.9 871.0,248.0 867.2,258.0"/><polyline points="876.7,187.1 875.2,198.0 872.1,205.8 870.0,215.0 869.0,221.4"/><polyline points="853.4,203.5 865.8,205.8 872.1,205.8"/><polyline points="872.7,265.8 871.1,276.7 872.7,287.6"/><polyline points="897.0,175.0 904.0,176.0"/><polyline points="783.5,152.5 787.0,155.0 791.0,153.8 795.0,156.5 797.6,155.5"/><polyline points="936.5,182.9 934.9,192.3 936.5,201.6 938.0,210.9 936.5,220.0 934.0,228.0 929.5,236.0 925.5,243.0 922.0,249.2"/><polyline points="936.5,201.6 948.0,206.0 960.0,204.0 972.0,208.0 985.0,206.0 998.0,212.0 1010.0,210.0" stroke-width="0.8" opacity="0.85"/><polyline points="1000.0,160.0 1004.0,175.0 1000.0,190.0 1006.0,200.0 1010.0,210.0 1012.0,222.0" stroke-width="0.8" opacity="0.85"/><polyline points="936.5,220.0 946.0,224.0 956.0,230.0 966.0,236.0 980.0,232.0 996.0,236.0 1012.0,226.0 1028.0,230.0" stroke-width="0.8" opacity="0.85"/><polyline points="925.5,243.0 938.0,240.0 950.0,244.0 958.0,240.0 966.0,236.0" stroke-width="0.8" opacity="0.85"/><polyline points="965.0,250.0 972.0,244.0 984.0,240.0 998.0,244.0 1010.0,240.0 1028.0,244.0" stroke-width="0.8" opacity="0.85"/><polyline points="965.0,258.0 975.0,262.0 990.0,264.0 1004.0,262.0 1018.0,268.0 1028.0,266.0" stroke-width="0.8" opacity="0.85"/><polyline points="928.7,270.5 940.0,268.0 952.0,266.0 965.0,258.0" stroke-width="0.8" opacity="0.85"/><polyline points="952.0,280.0 965.0,276.0 980.0,280.0 995.0,278.0 1004.0,284.0 1000.0,296.0 1008.0,306.0 1020.0,304.0 1028.0,308.0" stroke-width="0.8" opacity="0.85"/><polyline points="976.0,312.0 984.0,306.0 1000.0,296.0" stroke-width="0.8" opacity="0.85"/><polyline points="986.0,322.0 996.0,318.0 1008.0,306.0" stroke-width="0.8" opacity="0.85"/><polyline points="996.0,345.0 1002.0,336.0 1010.0,330.0 1012.0,325.0" stroke-width="0.8" opacity="0.85"/><polyline points="1020.0,304.0 1022.0,316.0 1018.0,320.0" stroke-width="0.8" opacity="0.85"/><polyline points="1004.0,262.0 1010.0,274.0 1004.0,284.0" stroke-width="0.8" opacity="0.85"/><polyline points="1012.0,222.0 1020.0,236.0 1028.0,240.0" stroke-width="0.8" opacity="0.85"/><polyline points="986.3,139.3 1000.0,142.0 1014.0,138.0 1028.0,142.0" stroke-width="0.8" opacity="0.85"/><polyline points="995.6,122.0 1010.0,126.0 1028.0,124.0" stroke-width="0.8" opacity="0.85"/><polyline points="980.0,160.0 992.0,162.0 1000.0,160.0 1012.0,156.0 1028.0,160.0" stroke-width="0.8" opacity="0.85"/><polyline points="1012.0,156.0 1014.0,138.0" stroke-width="0.8" opacity="0.85"/><polyline points="1010.0,210.0 1020.0,200.0 1028.0,198.0" stroke-width="0.8" opacity="0.85"/><polyline points="1019.6,52.3 1026.0,40.0 1028.0,30.0" stroke-width="0.8" opacity="0.85"/></g></g>
<line x1="666" y1="4.5" x2="666" y2="578" stroke="#8a8a8a" stroke-width="1.7" stroke-dasharray="1.8 2.8"/>
<text x="-9.5" y="15.7" font-size="17.4" fill="#3f3f3f" font-weight="normal" textLength="296.5" lengthAdjust="spacingAndGlyphs" stroke="#3f3f3f" stroke-width="0.3">TASA DE NACIMIENTO POR CC AA EN 2017</text>
<text x="586.6" y="44.3" font-size="14.5" fill="#8c8c8c" font-weight="normal" textLength="45.4" lengthAdjust="spacingAndGlyphs">(En ‰)</text>
<text x="681.2" y="23.9" font-size="18" fill="#3f3f3f" font-weight="normal" textLength="229.8" lengthAdjust="spacingAndGlyphs" stroke="#3f3f3f" stroke-width="0.3">TASA DE NATALIDAD EN EUROPA</text>
<text x="681.2" y="44.3" font-size="14.5" fill="#8c8c8c" font-weight="normal" textLength="44.3" lengthAdjust="spacingAndGlyphs">(En ‰)</text>
<text x="735.5" y="44.3" font-size="14.5" fill="#8c8c8c" font-weight="normal" textLength="64.0" lengthAdjust="spacingAndGlyphs">Datos 2016</text>
<text x="-9.5" y="396.9" font-size="17.7" fill="#3f3f3f" font-weight="normal" textLength="278.5" lengthAdjust="spacingAndGlyphs" stroke="#3f3f3f" stroke-width="0.3">EVOLUCIÓN DE NACIMIENTOS EN ESPAÑA</text>
<text x="241.0" y="415.0" font-size="14.5" fill="#8c8c8c" font-weight="normal" textLength="71.5" lengthAdjust="spacingAndGlyphs">(En número)</text>
<text x="342.7" y="396.9" font-size="17.7" fill="#3f3f3f" font-weight="normal" textLength="233.9" lengthAdjust="spacingAndGlyphs" stroke="#3f3f3f" stroke-width="0.3">EDAD DE LAS MADRES PRIMERIZAS</text>
<text x="581.2" y="396.9" font-size="17.7" fill="#454545" font-weight="normal" textLength="74.6" lengthAdjust="spacingAndGlyphs" stroke="none">(Evolución)</text>
<text x="680.7" y="395.7" font-size="18" fill="#3f3f3f" font-weight="normal" textLength="269.5" lengthAdjust="spacingAndGlyphs" stroke="#3f3f3f" stroke-width="0.3">EDAD MEDIA DE MADRES PRIMERIZAS</text>
<text x="-7.6" y="575.2" font-size="13.4" fill="#3e3e3e" font-weight="normal" textLength="139.9" lengthAdjust="spacingAndGlyphs" stroke="#3e3e3e" stroke-width="0.3">Fuente: INE/Datosmacro.com</text>
<circle cx="60.5" cy="79.2" r="18.2" fill="#cc2a27"/>
<circle cx="163.6" cy="55.3" r="17.2" fill="#cc2a27"/>
<circle cx="225.6" cy="65.2" r="18.4" fill="#cc2a27"/>
<circle cx="270.3" cy="64.5" r="19.3" fill="#cc2a27"/>
<circle cx="326.2" cy="64.7" r="20.2" fill="#cc2a27"/>
<circle cx="174.3" cy="115" r="18.9" fill="#cc2a27"/>
<circle cx="271.5" cy="108.5" r="19.6" fill="#b82826"/>
<circle cx="329.5" cy="122.5" r="20.3" fill="#b82826"/>
<circle cx="444" cy="120.3" r="20.6" fill="#cc2a27"/>
<circle cx="239" cy="170.5" r="21" fill="#b82826"/>
<circle cx="98.6" cy="225.9" r="19.6" fill="#cc2a27"/>
<circle cx="253.9" cy="213.7" r="20.3" fill="#b82826"/>
<circle cx="351.6" cy="231.4" r="20.2" fill="#cc2a27"/>
<circle cx="511.2" cy="210.0" r="20.3" fill="#cc2a27"/>
<circle cx="236.7" cy="285.1" r="21" fill="#b82826"/>
<circle cx="323.6" cy="295" r="22.3" fill="#cc2a27"/>
<circle cx="475.1" cy="290.1" r="18.7" fill="#cc2a27"/>
<circle cx="141.7" cy="347" r="24.5" fill="#cc2a27"/>
<circle cx="244.6" cy="343.5" r="27.7" fill="#cc2a27"/>
<g style="mix-blend-mode:multiply">
<circle cx="769.6" cy="120.4" r="24" fill="#cc2a27"/>
<circle cx="948.6" cy="66.2" r="23.9" fill="#cc2a27"/>
<circle cx="1001.4" cy="69" r="22" fill="#cc2a27"/>
<circle cx="864.4" cy="144.7" r="22" fill="#cc2a27"/>
<circle cx="717.3" cy="177.3" r="23" fill="#cc2a27"/>
<circle cx="977.7" cy="173.8" r="23" fill="#cc2a27"/>
<circle cx="910.5" cy="209.6" r="21.3" fill="#cc2a27"/>
<circle cx="824" cy="244.4" r="23.7" fill="#cc2a27"/>
<circle cx="700.3" cy="307" r="20" fill="#cc2a27"/>
<circle cx="774.8" cy="328" r="21" fill="#cc2a27"/>
<circle cx="923.2" cy="315.2" r="19.3" fill="#cc2a27"/>
</g>
<circle cx="769.6" cy="120.4" r="24" fill="#cc2a27" opacity="0.3"/>
<circle cx="948.6" cy="66.2" r="23.9" fill="#cc2a27" opacity="0.3"/>
<circle cx="1001.4" cy="69" r="22" fill="#cc2a27" opacity="0.3"/>
<circle cx="864.4" cy="144.7" r="22" fill="#cc2a27" opacity="0.3"/>
<circle cx="717.3" cy="177.3" r="23" fill="#cc2a27" opacity="0.3"/>
<circle cx="977.7" cy="173.8" r="23" fill="#cc2a27" opacity="0.3"/>
<circle cx="910.5" cy="209.6" r="21.3" fill="#cc2a27" opacity="0.3"/>
<circle cx="824" cy="244.4" r="23.7" fill="#cc2a27" opacity="0.3"/>
<circle cx="700.3" cy="307" r="20" fill="#cc2a27" opacity="0.3"/>
<circle cx="774.8" cy="328" r="21" fill="#cc2a27" opacity="0.3"/>
<circle cx="923.2" cy="315.2" r="19.3" fill="#cc2a27" opacity="0.3"/>
<text x="60.5" y="84.3" font-size="14.6" fill="#fff" font-weight="bold" text-anchor="middle" textLength="27.8" lengthAdjust="spacingAndGlyphs">6,81</text>
<text x="163.6" y="60.4" font-size="14.6" fill="#fff" font-weight="bold" text-anchor="middle" textLength="30.0" lengthAdjust="spacingAndGlyphs">5,84</text>
<text x="225.6" y="70.3" font-size="14.6" fill="#fff" font-weight="bold" text-anchor="middle" textLength="28.4" lengthAdjust="spacingAndGlyphs">7,08</text>
<text x="270.3" y="69.6" font-size="14.6" fill="#fff" font-weight="bold" text-anchor="middle" textLength="26.8" lengthAdjust="spacingAndGlyphs">7,87</text>
<text x="326.2" y="69.8" font-size="14.6" fill="#fff" font-weight="bold" text-anchor="middle" textLength="30.0" lengthAdjust="spacingAndGlyphs">8,96</text>
<text x="174.3" y="120.1" font-size="14.6" fill="#fff" font-weight="bold" text-anchor="middle" textLength="30.0" lengthAdjust="spacingAndGlyphs">6,39</text>
<text x="271.5" y="113.6" font-size="14.6" fill="#fff" font-weight="bold" text-anchor="middle" textLength="27.8" lengthAdjust="spacingAndGlyphs">8,21</text>
<text x="329.5" y="127.6" font-size="14.6" fill="#fff" font-weight="bold" text-anchor="middle" textLength="28.4" lengthAdjust="spacingAndGlyphs">7,95</text>
<text x="444.0" y="125.4" font-size="14.6" fill="#fff" font-weight="bold" text-anchor="middle" textLength="30.0" lengthAdjust="spacingAndGlyphs">8,89</text>
<text x="239.0" y="175.6" font-size="14.6" fill="#fff" font-weight="bold" text-anchor="middle" textLength="28.4" lengthAdjust="spacingAndGlyphs">9,27</text>
<text x="98.6" y="231.0" font-size="14.6" fill="#fff" font-weight="bold" text-anchor="middle" textLength="28.4" lengthAdjust="spacingAndGlyphs">7,88</text>
<text x="253.9" y="218.8" font-size="14.6" fill="#fff" font-weight="bold" text-anchor="middle" textLength="28.4" lengthAdjust="spacingAndGlyphs">8,27</text>
<text x="351.6" y="236.5" font-size="14.6" fill="#fff" font-weight="bold" text-anchor="middle" textLength="26.2" lengthAdjust="spacingAndGlyphs">8,17</text>
<text x="511.2" y="215.1" font-size="14.6" fill="#fff" font-weight="bold" text-anchor="middle" textLength="28.4" lengthAdjust="spacingAndGlyphs">8,87</text>
<text x="236.7" y="290.2" font-size="14.6" fill="#fff" font-weight="bold" text-anchor="middle" textLength="30.0" lengthAdjust="spacingAndGlyphs">8,85</text>
<text x="323.6" y="300.1" font-size="14.6" fill="#fff" font-weight="bold" text-anchor="middle" textLength="34.6" lengthAdjust="spacingAndGlyphs">10,19</text>
<text x="475.1" y="295.2" font-size="14.6" fill="#fff" font-weight="bold" text-anchor="middle" textLength="28.4" lengthAdjust="spacingAndGlyphs">7,24</text>
<text x="141.7" y="352.1" font-size="14.6" fill="#fff" font-weight="bold" text-anchor="middle" textLength="27.8" lengthAdjust="spacingAndGlyphs">12,3</text>
<text x="244.6" y="348.6" font-size="14.6" fill="#fff" font-weight="bold" text-anchor="middle" textLength="36.8" lengthAdjust="spacingAndGlyphs">15,89</text>
<text x="769.6" y="125.8" font-size="15.5" fill="#fff" font-weight="bold" text-anchor="middle" textLength="26.6" lengthAdjust="spacingAndGlyphs">11,8</text>
<text x="948.6" y="71.6" font-size="15.5" fill="#fff" font-weight="bold" text-anchor="middle" textLength="26.6" lengthAdjust="spacingAndGlyphs">11,8</text>
<text x="1001.4" y="74.4" font-size="15.5" fill="#fff" font-weight="bold" text-anchor="middle" textLength="22.0" lengthAdjust="spacingAndGlyphs">9,6</text>
<text x="864.4" y="150.1" font-size="15.5" fill="#fff" font-weight="bold" text-anchor="middle" textLength="26.6" lengthAdjust="spacingAndGlyphs">10,1</text>
<text x="717.3" y="182.7" font-size="15.5" fill="#fff" font-weight="bold" text-anchor="middle" textLength="29.0" lengthAdjust="spacingAndGlyphs">10,8</text>
<text x="977.7" y="179.2" font-size="15.5" fill="#fff" font-weight="bold" text-anchor="middle" textLength="29.0" lengthAdjust="spacingAndGlyphs">10,8</text>
<text x="910.5" y="215.0" font-size="15.5" fill="#fff" font-weight="bold" text-anchor="middle" textLength="22.0" lengthAdjust="spacingAndGlyphs">9,6</text>
<text x="824.0" y="249.8" font-size="15.5" fill="#fff" font-weight="bold" text-anchor="middle" textLength="25.0" lengthAdjust="spacingAndGlyphs">11,7</text>
<text x="700.3" y="312.4" font-size="15.5" fill="#fff" font-weight="bold" text-anchor="middle" textLength="22.0" lengthAdjust="spacingAndGlyphs">8,4</text>
<text x="774.8" y="333.4" font-size="15.5" fill="#fff" font-weight="bold" text-anchor="middle" textLength="22.0" lengthAdjust="spacingAndGlyphs">8,8</text>
<text x="923.2" y="320.6" font-size="15.5" fill="#fff" font-weight="bold" text-anchor="middle" textLength="20.4" lengthAdjust="spacingAndGlyphs">7,8</text>
<text x="39.3" y="54.5" font-size="15.2" fill="#3e3e3e" font-weight="normal" textLength="42.6" lengthAdjust="spacingAndGlyphs" stroke="#3e3e3e" stroke-width="0.3">Galicia</text>
<text x="137.5" y="35.0" font-size="15.2" fill="#3e3e3e" font-weight="normal" textLength="51.0" lengthAdjust="spacingAndGlyphs" stroke="#3e3e3e" stroke-width="0.3">Asturias</text>
<text x="188.8" y="99.6" font-size="15.2" fill="#3e3e3e" font-weight="normal" textLength="62.7" lengthAdjust="spacingAndGlyphs" stroke="#3e3e3e" stroke-width="0.3">Cantabria</text>
<text x="247.8" y="40.2" font-size="15.2" fill="#3e3e3e" font-weight="normal" textLength="49.2" lengthAdjust="spacingAndGlyphs" stroke="#3e3e3e" stroke-width="0.3">P. Vasco</text>
<text x="351.9" y="66.0" font-size="15.2" fill="#3e3e3e" font-weight="normal" textLength="51.1" lengthAdjust="spacingAndGlyphs" stroke="#3e3e3e" stroke-width="0.3">Navarra</text>
<text x="472.5" y="125.1" font-size="15.2" fill="#3e3e3e" font-weight="normal" textLength="56.7" lengthAdjust="spacingAndGlyphs" stroke="#3e3e3e" stroke-width="0.3">Cataluña</text>
<text x="248.6" y="142.5" font-size="15.2" fill="#3e3e3e" font-weight="normal" textLength="49.4" lengthAdjust="spacingAndGlyphs" stroke="#3e3e3e" stroke-width="0.3">La Rioja</text>
<text x="305.2" y="155.2" font-size="15.2" fill="#3e3e3e" font-weight="normal" textLength="46.8" lengthAdjust="spacingAndGlyphs" stroke="#3e3e3e" stroke-width="0.3">Aragón</text>
<text x="134.3" y="147.0" font-size="15.2" fill="#3e3e3e" font-weight="normal" textLength="75.2" lengthAdjust="spacingAndGlyphs" stroke="#3e3e3e" stroke-width="0.3">Cast. y León</text>
<text x="54.8" y="199.3" font-size="15.2" fill="#3e3e3e" font-weight="normal" textLength="83.4" lengthAdjust="spacingAndGlyphs" stroke="#3e3e3e" stroke-width="0.3">Extremadura</text>
<text x="203.5" y="247.0" font-size="15.2" fill="#3e3e3e" font-weight="normal" textLength="105.1" lengthAdjust="spacingAndGlyphs" stroke="#3e3e3e" stroke-width="0.3">Cast. La Mancha</text>
<text x="308.3" y="207.5" font-size="15.2" fill="#3e3e3e" font-weight="normal" textLength="85.4" lengthAdjust="spacingAndGlyphs" stroke="#3e3e3e" stroke-width="0.3">C. valenciana</text>
<text x="486.5" y="184.2" font-size="15.2" fill="#3e3e3e" font-weight="normal" textLength="55.0" lengthAdjust="spacingAndGlyphs" stroke="#3e3e3e" stroke-width="0.3">Baleares</text>
<text x="147.9" y="289.0" font-size="15.2" fill="#3e3e3e" font-weight="normal" textLength="62.9" lengthAdjust="spacingAndGlyphs" stroke="#3e3e3e" stroke-width="0.3">Andalucía</text>
<text x="350.1" y="300.0" font-size="15.2" fill="#3e3e3e" font-weight="normal" textLength="43.6" lengthAdjust="spacingAndGlyphs" stroke="#3e3e3e" stroke-width="0.3">Murcia</text>
<text x="499.8" y="295.8" font-size="15.2" fill="#3e3e3e" font-weight="normal" textLength="56.1" lengthAdjust="spacingAndGlyphs" stroke="#3e3e3e" stroke-width="0.3">Canarias</text>
<text x="166.8" y="362.2" font-size="15.2" fill="#3e3e3e" font-weight="normal" textLength="36.2" lengthAdjust="spacingAndGlyphs" stroke="#3e3e3e" stroke-width="0.3">Ceuta</text>
<text x="277.2" y="348.5" font-size="15.2" fill="#3e3e3e" font-weight="normal" textLength="43.0" lengthAdjust="spacingAndGlyphs" stroke="#3e3e3e" stroke-width="0.3">Melilla</text>
<text x="741.7" y="91.6" font-size="15.2" fill="#3e3e3e" font-weight="normal" textLength="55.8" lengthAdjust="spacingAndGlyphs" stroke="#3e3e3e" stroke-width="0.3">R. Unido</text>
<text x="926.9" y="39.8" font-size="15.2" fill="#3e3e3e" font-weight="normal" textLength="41.8" lengthAdjust="spacingAndGlyphs" stroke="#3e3e3e" stroke-width="0.3">Suecia</text>
<text x="973.7" y="103.3" font-size="15.2" fill="#3e3e3e" font-weight="normal" textLength="60.8" lengthAdjust="spacingAndGlyphs" stroke="#3e3e3e" stroke-width="0.3">Finlandia</text>
<text x="840.5" y="181.0" font-size="15.2" fill="#3e3e3e" font-weight="normal" textLength="53.5" lengthAdjust="spacingAndGlyphs" stroke="#3e3e3e" stroke-width="0.3">Holanda</text>
<text x="694.4" y="218.4" font-size="15.2" fill="#3e3e3e" font-weight="normal" textLength="46.5" lengthAdjust="spacingAndGlyphs" stroke="#3e3e3e" stroke-width="0.3">Bélgica</text>
<text x="945.6" y="209.6" font-size="15.2" fill="#3e3e3e" font-weight="normal" textLength="69.9" lengthAdjust="spacingAndGlyphs" stroke="#3e3e3e" stroke-width="0.3">Dinamarca</text>
<text x="883.6" y="244.5" font-size="15.2" fill="#3e3e3e" font-weight="normal" textLength="60.7" lengthAdjust="spacingAndGlyphs" stroke="#3e3e3e" stroke-width="0.3">Alemania</text>
<text x="798.2" y="281.8" font-size="15.2" fill="#3e3e3e" font-weight="normal" textLength="46.6" lengthAdjust="spacingAndGlyphs" stroke="#3e3e3e" stroke-width="0.3">Francia</text>
<text x="673.7" y="281.1" font-size="15.2" fill="#3e3e3e" font-weight="normal" textLength="56.0" lengthAdjust="spacingAndGlyphs" stroke="#3e3e3e" stroke-width="0.3">Portugal</text>
<text x="750.9" y="301.8" font-size="15.2" fill="#3e3e3e" font-weight="normal" textLength="46.1" lengthAdjust="spacingAndGlyphs" stroke="#3e3e3e" stroke-width="0.3">España</text>
<text x="906.0" y="347.6" font-size="15.2" fill="#3e3e3e" font-weight="normal" textLength="32.3" lengthAdjust="spacingAndGlyphs" stroke="#3e3e3e" stroke-width="0.3">Italia</text>
<text x="168.8" y="178.9" font-size="15" fill="#333" font-weight="normal" textLength="44.9" lengthAdjust="spacingAndGlyphs" stroke="#333" stroke-width="0.3">Madrid</text>
<g fill="none" stroke="#333" stroke-width="0.9">
<polyline points="744.7,214.1 775.8,214.1 783.8,206"/>
<polyline points="902,156.9 911.5,156.9 928.9,174 955,174"/>
</g>
<circle cx="857.2" cy="206" r="1.6" fill="#222"/><circle cx="902" cy="156.9" r="1.6" fill="#222"/>
<rect x="6.0" y="431.3" width="12" height="104.7" fill="#cfe0ed"/>
<rect x="40.5" y="474.5" width="12" height="61.5" fill="#cfe0ed"/>
<rect x="75.2" y="499.7" width="12" height="36.3" fill="#cfe0ed"/>
<rect x="109.8" y="509.0" width="12" height="27.0" fill="#cfe0ed"/>
<rect x="144.5" y="499.7" width="12" height="36.3" fill="#cfe0ed"/>
<rect x="179.0" y="470.0" width="12" height="66.0" fill="#cfe0ed"/>
<rect x="213.7" y="474.5" width="12" height="61.5" fill="#cfe0ed"/>
<rect x="248.3" y="499.7" width="12" height="36.3" fill="#cfe0ed"/>
<rect x="283.0" y="501.5" width="12" height="34.5" fill="#cfe0ed"/>
<line x1="0" y1="536.5" x2="315" y2="536.5" stroke="#555" stroke-width="1"/>
<g fill="#4a86a8" stroke="#4a86a8" stroke-linejoin="round">
<circle cx="18.9" cy="466.7" r="10.9" stroke="none"/>
<path d="M9.5 480.2 h18.8 a2.6 2.6 0 0 1 2.6 2.6 v16.6 h-24 v-16.6 a2.6 2.6 0 0 1 2.600 -2.6z" stroke="none"/>
<path d="M28.6 483.6 L42.2 497.2 M9.2 483.600 L-4.400 497.2" fill="none" stroke-width="7" stroke-linecap="round"/>
<path d="M29.8 507 L38.6 515.8 L27.8 532.2 L22.2 528 L27.6 519.6 L23.2 513 Z" stroke-width="2.4"/>
<path d="M8 507 L-0.8 515.8 L10 532.2 L15.6 528 L10.2 519.6 L14.6 513 Z" stroke-width="2.4"/>
</g>
<polyline points="12,431.3 46.5,474.5 81.2,499.7 115.8,509 150.5,499.7 185,470 219.7,474.5 254.3,499.7 289,501.5" fill="none" stroke="#4a86a8" stroke-width="4.6" stroke-linejoin="round"/>
<circle cx="12" cy="431.3" r="4.4" fill="#fff" stroke="#4a86a8" stroke-width="2.3"/>
<circle cx="46.5" cy="474.5" r="4.4" fill="#fff" stroke="#4a86a8" stroke-width="2.3"/>
<circle cx="81.2" cy="499.7" r="4.4" fill="#fff" stroke="#4a86a8" stroke-width="2.3"/>
<circle cx="115.8" cy="509" r="4.4" fill="#fff" stroke="#4a86a8" stroke-width="2.3"/>
<circle cx="150.5" cy="499.7" r="4.4" fill="#fff" stroke="#4a86a8" stroke-width="2.3"/>
<circle cx="185" cy="470" r="4.4" fill="#fff" stroke="#4a86a8" stroke-width="2.3"/>
<circle cx="219.7" cy="474.5" r="4.4" fill="#fff" stroke="#4a86a8" stroke-width="2.3"/>
<circle cx="254.3" cy="499.7" r="4.4" fill="#fff" stroke="#4a86a8" stroke-width="2.3"/>
<circle cx="289" cy="501.5" r="4.4" fill="#fff" stroke="#4a86a8" stroke-width="2.3"/>
<text x="-8.5" y="422.5" font-size="15.4" fill="#3e3e3e" font-weight="normal" textLength="53.3" lengthAdjust="spacingAndGlyphs" stroke="#3e3e3e" stroke-width="0.3">669.378</text>
<text x="45.5" y="465.4" font-size="15.4" fill="#3e3e3e" font-weight="normal" textLength="58.5" lengthAdjust="spacingAndGlyphs" stroke="#3e3e3e" stroke-width="0.3">500.000</text>
<text x="75.3" y="491.4" font-size="15.4" fill="#3e3e3e" font-weight="normal" textLength="58.7" lengthAdjust="spacingAndGlyphs" stroke="#3e3e3e" stroke-width="0.3">400.000</text>
<text x="86.0" y="530.0" font-size="15.4" fill="#3e3e3e" font-weight="normal" textLength="54.8" lengthAdjust="spacingAndGlyphs" stroke="#3e3e3e" stroke-width="0.3">362.626</text>
<text x="147.3" y="518.0" font-size="15.4" fill="#3e3e3e" font-weight="normal" textLength="57.9" lengthAdjust="spacingAndGlyphs" stroke="#3e3e3e" stroke-width="0.3">400.000</text>
<text x="154.7" y="460.3" font-size="15.4" fill="#3e3e3e" font-weight="normal" textLength="54.0" lengthAdjust="spacingAndGlyphs" stroke="#3e3e3e" stroke-width="0.3">519.000</text>
<text x="222.2" y="469.0" font-size="15.4" fill="#3e3e3e" font-weight="normal" textLength="58.7" lengthAdjust="spacingAndGlyphs" stroke="#3e3e3e" stroke-width="0.3">500.000</text>
<text x="224.5" y="519.0" font-size="15.4" fill="#3e3e3e" font-weight="normal" textLength="57.5" lengthAdjust="spacingAndGlyphs" stroke="#3e3e3e" stroke-width="0.3">400.000</text>
<text x="266.2" y="492.0" font-size="15" fill="#cc2a27" font-weight="bold" textLength="52.6" lengthAdjust="spacingAndGlyphs" stroke="#cc2a27" stroke-width="0.3">391.930</text>
<text x="-1.2" y="552.8" font-size="14.8" fill="#7e7e7e" font-weight="normal" textLength="25.8" lengthAdjust="spacingAndGlyphs">1975</text>
<text x="32.7" y="552.8" font-size="14.8" fill="#7e7e7e" font-weight="normal" textLength="26.4" lengthAdjust="spacingAndGlyphs">1982</text>
<text x="67.2" y="552.8" font-size="14.8" fill="#7e7e7e" font-weight="normal" textLength="27.4" lengthAdjust="spacingAndGlyphs">1990</text>
<text x="101.9" y="552.8" font-size="14.8" fill="#7e7e7e" font-weight="normal" textLength="27.3" lengthAdjust="spacingAndGlyphs">1996</text>
<text x="136.2" y="552.8" font-size="14.8" fill="#7e7e7e" font-weight="normal" textLength="27.0" lengthAdjust="spacingAndGlyphs">2001</text>
<text x="169.6" y="552.8" font-size="14.8" fill="#7e7e7e" font-weight="normal" textLength="29.8" lengthAdjust="spacingAndGlyphs">2008</text>
<text x="205.2" y="552.8" font-size="14.8" fill="#7e7e7e" font-weight="normal" textLength="28.0" lengthAdjust="spacingAndGlyphs">2010</text>
<text x="240.9" y="552.8" font-size="14.8" fill="#7e7e7e" font-weight="normal" textLength="27.3" lengthAdjust="spacingAndGlyphs">2015</text>
<text x="274.7" y="552.8" font-size="14.8" fill="#3a3a3a" font-weight="bold" textLength="28.0" lengthAdjust="spacingAndGlyphs" stroke="#3a3a3a" stroke-width="0.3">2017</text>
<rect x="349.1" y="492.5" width="12.4" height="43.5" fill="#cfe0ed"/>
<rect x="375.8" y="485.6" width="12.4" height="50.4" fill="#cfe0ed"/>
<rect x="402.4" y="474.3" width="12.4" height="61.7" fill="#cfe0ed"/>
<rect x="429.0" y="455.6" width="12.4" height="80.4" fill="#cfe0ed"/>
<rect x="455.6" y="447.4" width="12.4" height="88.6" fill="#cfe0ed"/>
<rect x="482.2" y="444.5" width="12.4" height="91.5" fill="#cfe0ed"/>
<rect x="508.8" y="445.6" width="12.4" height="90.4" fill="#cfe0ed"/>
<rect x="535.4" y="439.5" width="12.4" height="96.5" fill="#cfe0ed"/>
<rect x="562.0" y="433.0" width="12.4" height="103.0" fill="#cfe0ed"/>
<rect x="588.6" y="429.4" width="12.4" height="106.6" fill="#cfe0ed"/>
<rect x="615.3" y="426.9" width="12.4" height="109.1" fill="#cfe0ed"/>
<line x1="346.5" y1="536.5" x2="632" y2="536.5" stroke="#555" stroke-width="1"/>
<polyline points="355.3,492.5 382,485.6 408.6,474.3 435.2,455.6 461.8,447.4 488.4,444.5 515,445.6 541.6,439.5 568.2,433 594.8,429.4 621.5,426.9" fill="none" stroke="#4a86a8" stroke-width="4.6" stroke-linejoin="round"/>
<circle cx="355.3" cy="492.5" r="4.4" fill="#fff" stroke="#4a86a8" stroke-width="2.3"/>
<circle cx="382" cy="485.6" r="4.4" fill="#fff" stroke="#4a86a8" stroke-width="2.3"/>
<circle cx="408.6" cy="474.3" r="4.4" fill="#fff" stroke="#4a86a8" stroke-width="2.3"/>
<circle cx="435.2" cy="455.6" r="4.4" fill="#fff" stroke="#4a86a8" stroke-width="2.3"/>
<circle cx="461.8" cy="447.4" r="4.4" fill="#fff" stroke="#4a86a8" stroke-width="2.3"/>
<circle cx="488.4" cy="444.5" r="4.4" fill="#fff" stroke="#4a86a8" stroke-width="2.3"/>
<circle cx="515" cy="445.6" r="4.4" fill="#fff" stroke="#4a86a8" stroke-width="2.3"/>
<circle cx="541.6" cy="439.5" r="4.4" fill="#fff" stroke="#4a86a8" stroke-width="2.3"/>
<circle cx="568.2" cy="433" r="4.4" fill="#fff" stroke="#4a86a8" stroke-width="2.3"/>
<circle cx="594.8" cy="429.4" r="4.4" fill="#fff" stroke="#4a86a8" stroke-width="2.3"/>
<circle cx="621.5" cy="426.9" r="4.4" fill="#fff" stroke="#4a86a8" stroke-width="2.3"/>
<text x="340.0" y="514.0" font-size="15.4" fill="#3e3e3e" font-weight="normal" textLength="29.6" lengthAdjust="spacingAndGlyphs" stroke="#3e3e3e" stroke-width="0.3">25,2</text>
<text x="356.0" y="477.3" font-size="15.4" fill="#3e3e3e" font-weight="normal" textLength="28.7" lengthAdjust="spacingAndGlyphs" stroke="#3e3e3e" stroke-width="0.3">25,8</text>
<text x="386.9" y="465.4" font-size="15.4" fill="#3e3e3e" font-weight="normal" textLength="28.8" lengthAdjust="spacingAndGlyphs" stroke="#3e3e3e" stroke-width="0.3">26,8</text>
<text x="410.0" y="446.3" font-size="15.4" fill="#3e3e3e" font-weight="normal" textLength="29.8" lengthAdjust="spacingAndGlyphs" stroke="#3e3e3e" stroke-width="0.3">28,4</text>
<text x="448.0" y="439.0" font-size="15.4" fill="#3e3e3e" font-weight="normal" textLength="26.0" lengthAdjust="spacingAndGlyphs" stroke="#3e3e3e" stroke-width="0.3">29,1</text>
<text x="476.9" y="434.8" font-size="15.4" fill="#3e3e3e" font-weight="normal" textLength="28.8" lengthAdjust="spacingAndGlyphs" stroke="#3e3e3e" stroke-width="0.3">29,4</text>
<text x="500.0" y="464.3" font-size="15.4" fill="#3e3e3e" font-weight="normal" textLength="28.7" lengthAdjust="spacingAndGlyphs" stroke="#3e3e3e" stroke-width="0.3">29,3</text>
<text x="517.0" y="429.4" font-size="15.4" fill="#3e3e3e" font-weight="normal" textLength="29.0" lengthAdjust="spacingAndGlyphs" stroke="#3e3e3e" stroke-width="0.3">29,8</text>
<text x="548.9" y="421.5" font-size="15.4" fill="#3e3e3e" font-weight="normal" textLength="29.5" lengthAdjust="spacingAndGlyphs" stroke="#3e3e3e" stroke-width="0.3">30,4</text>
<text x="584.0" y="418.6" font-size="15.4" fill="#3e3e3e" font-weight="normal" textLength="28.6" lengthAdjust="spacingAndGlyphs" stroke="#3e3e3e" stroke-width="0.3">30,7</text>
<text x="623.8" y="419.3" font-size="15.5" fill="#cc2a27" font-weight="bold" textLength="30.6" lengthAdjust="spacingAndGlyphs" stroke="#cc2a27" stroke-width="0.3">30,9</text>
<text x="345.6" y="552.7" font-size="14.8" fill="#7e7e7e" font-weight="normal" textLength="25.4" lengthAdjust="spacingAndGlyphs">1975</text>
<text x="377.2" y="552.7" font-size="14.8" fill="#7e7e7e" font-weight="normal" textLength="14.8" lengthAdjust="spacingAndGlyphs">85</text>
<text x="401.4" y="552.7" font-size="14.8" fill="#7e7e7e" font-weight="normal" textLength="15.8" lengthAdjust="spacingAndGlyphs">90</text>
<text x="427.5" y="552.7" font-size="14.8" fill="#7e7e7e" font-weight="normal" textLength="15.1" lengthAdjust="spacingAndGlyphs">95</text>
<text x="446.2" y="552.7" font-size="14.8" fill="#7e7e7e" font-weight="normal" textLength="30.7" lengthAdjust="spacingAndGlyphs">2000</text>
<text x="482.6" y="552.7" font-size="14.8" fill="#7e7e7e" font-weight="normal" textLength="13.9" lengthAdjust="spacingAndGlyphs">05</text>
<text x="507.1" y="552.7" font-size="14.8" fill="#7e7e7e" font-weight="normal" textLength="15.6" lengthAdjust="spacingAndGlyphs">08</text>
<text x="535.4" y="552.7" font-size="14.8" fill="#7e7e7e" font-weight="normal" textLength="12.5" lengthAdjust="spacingAndGlyphs">10</text>
<text x="561.3" y="552.7" font-size="14.8" fill="#7e7e7e" font-weight="normal" textLength="12.0" lengthAdjust="spacingAndGlyphs">13</text>
<text x="589.3" y="552.7" font-size="14.8" fill="#7e7e7e" font-weight="normal" textLength="11.2" lengthAdjust="spacingAndGlyphs">15</text>
<text x="608.6" y="552.7" font-size="14.8" fill="#3a3a3a" font-weight="bold" textLength="26.5" lengthAdjust="spacingAndGlyphs" stroke="#3a3a3a" stroke-width="0.3">2017</text>
<path transform="translate(549.97,429.99) scale(0.19881)" d="M154 157a73 73 0 1 0 146 0a73 73 0 1 0 -146 0ZM160 252Q230 236 300 252C352 276 386 332 392 400C396 452 368 488 328 496C300 500 276 490 270 470L262 482C262 506 240 526 200 526C140 522 80 490 65 440C55 390 90 290 160 252ZM232 372a48 48 0 1 0 96 0a48 48 0 1 0 -96 0ZM185 362C200 362 212 380 210 400C225 415 250 425 262 445C268 460 262 472 250 472C220 470 180 462 140 448C132 440 150 432 172 428C180 410 168 380 185 362Z" fill="#4a86a8" fill-rule="evenodd"/>
<rect x="695.1" y="454.2" width="4" height="47.8" fill="#cfe0ed"/>
<rect x="726.9" y="453.6" width="4" height="48.4" fill="#cfe0ed"/>
<rect x="759.8" y="453.4" width="4" height="48.6" fill="#cfe0ed"/>
<rect x="793.0" y="452.8" width="4" height="49.2" fill="#cfe0ed"/>
<rect x="824.8" y="452.4" width="4" height="49.6" fill="#cfe0ed"/>
<rect x="857.8" y="452.4" width="4" height="49.6" fill="#cfe0ed"/>
<rect x="890.2" y="452.0" width="4" height="50.0" fill="#cfe0ed"/>
<rect x="923.0" y="451.6" width="4" height="50.4" fill="#cfe0ed"/>
<rect x="955.5" y="450.9" width="4" height="51.1" fill="#cfe0ed"/>
<rect x="987.6" y="448.2" width="4" height="53.8" fill="#cfe0ed"/>
<rect x="1020.8" y="447.5" width="4" height="54.5" fill="#cfe0ed"/>
<path transform="translate(683.56,426.84) scale(0.05964)" d="M154 157a73 73 0 1 0 146 0a73 73 0 1 0 -146 0ZM160 252Q230 236 300 252C352 276 386 332 392 400C396 452 368 488 328 496C300 500 276 490 270 470L262 482C262 506 240 526 200 526C140 522 80 490 65 440C55 390 90 290 160 252ZM232 372a48 48 0 1 0 96 0a48 48 0 1 0 -96 0ZM185 362C200 362 212 380 210 400C225 415 250 425 262 445C268 460 262 472 250 472C220 470 180 462 140 448C132 440 150 432 172 428C180 410 168 380 185 362Z" fill="#4a86a8" fill-rule="evenodd"/>
<path transform="translate(715.36,426.24) scale(0.05964)" d="M154 157a73 73 0 1 0 146 0a73 73 0 1 0 -146 0ZM160 252Q230 236 300 252C352 276 386 332 392 400C396 452 368 488 328 496C300 500 276 490 270 470L262 482C262 506 240 526 200 526C140 522 80 490 65 440C55 390 90 290 160 252ZM232 372a48 48 0 1 0 96 0a48 48 0 1 0 -96 0ZM185 362C200 362 212 380 210 400C225 415 250 425 262 445C268 460 262 472 250 472C220 470 180 462 140 448C132 440 150 432 172 428C180 410 168 380 185 362Z" fill="#4a86a8" fill-rule="evenodd"/>
<path transform="translate(748.26,426.04) scale(0.05964)" d="M154 157a73 73 0 1 0 146 0a73 73 0 1 0 -146 0ZM160 252Q230 236 300 252C352 276 386 332 392 400C396 452 368 488 328 496C300 500 276 490 270 470L262 482C262 506 240 526 200 526C140 522 80 490 65 440C55 390 90 290 160 252ZM232 372a48 48 0 1 0 96 0a48 48 0 1 0 -96 0ZM185 362C200 362 212 380 210 400C225 415 250 425 262 445C268 460 262 472 250 472C220 470 180 462 140 448C132 440 150 432 172 428C180 410 168 380 185 362Z" fill="#4a86a8" fill-rule="evenodd"/>
<path transform="translate(781.46,425.44) scale(0.05964)" d="M154 157a73 73 0 1 0 146 0a73 73 0 1 0 -146 0ZM160 252Q230 236 300 252C352 276 386 332 392 400C396 452 368 488 328 496C300 500 276 490 270 470L262 482C262 506 240 526 200 526C140 522 80 490 65 440C55 390 90 290 160 252ZM232 372a48 48 0 1 0 96 0a48 48 0 1 0 -96 0ZM185 362C200 362 212 380 210 400C225 415 250 425 262 445C268 460 262 472 250 472C220 470 180 462 140 448C132 440 150 432 172 428C180 410 168 380 185 362Z" fill="#4a86a8" fill-rule="evenodd"/>
<path transform="translate(813.26,425.04) scale(0.05964)" d="M154 157a73 73 0 1 0 146 0a73 73 0 1 0 -146 0ZM160 252Q230 236 300 252C352 276 386 332 392 400C396 452 368 488 328 496C300 500 276 490 270 470L262 482C262 506 240 526 200 526C140 522 80 490 65 440C55 390 90 290 160 252ZM232 372a48 48 0 1 0 96 0a48 48 0 1 0 -96 0ZM185 362C200 362 212 380 210 400C225 415 250 425 262 445C268 460 262 472 250 472C220 470 180 462 140 448C132 440 150 432 172 428C180 410 168 380 185 362Z" fill="#4a86a8" fill-rule="evenodd"/>
<path transform="translate(846.26,425.04) scale(0.05964)" d="M154 157a73 73 0 1 0 146 0a73 73 0 1 0 -146 0ZM160 252Q230 236 300 252C352 276 386 332 392 400C396 452 368 488 328 496C300 500 276 490 270 470L262 482C262 506 240 526 200 526C140 522 80 490 65 440C55 390 90 290 160 252ZM232 372a48 48 0 1 0 96 0a48 48 0 1 0 -96 0ZM185 362C200 362 212 380 210 400C225 415 250 425 262 445C268 460 262 472 250 472C220 470 180 462 140 448C132 440 150 432 172 428C180 410 168 380 185 362Z" fill="#4a86a8" fill-rule="evenodd"/>
<path transform="translate(878.66,424.64) scale(0.05964)" d="M154 157a73 73 0 1 0 146 0a73 73 0 1 0 -146 0ZM160 252Q230 236 300 252C352 276 386 332 392 400C396 452 368 488 328 496C300 500 276 490 270 470L262 482C262 506 240 526 200 526C140 522 80 490 65 440C55 390 90 290 160 252ZM232 372a48 48 0 1 0 96 0a48 48 0 1 0 -96 0ZM185 362C200 362 212 380 210 400C225 415 250 425 262 445C268 460 262 472 250 472C220 470 180 462 140 448C132 440 150 432 172 428C180 410 168 380 185 362Z" fill="#4a86a8" fill-rule="evenodd"/>
<path transform="translate(911.46,424.24) scale(0.05964)" d="M154 157a73 73 0 1 0 146 0a73 73 0 1 0 -146 0ZM160 252Q230 236 300 252C352 276 386 332 392 400C396 452 368 488 328 496C300 500 276 490 270 470L262 482C262 506 240 526 200 526C140 522 80 490 65 440C55 390 90 290 160 252ZM232 372a48 48 0 1 0 96 0a48 48 0 1 0 -96 0ZM185 362C200 362 212 380 210 400C225 415 250 425 262 445C268 460 262 472 250 472C220 470 180 462 140 448C132 440 150 432 172 428C180 410 168 380 185 362Z" fill="#4a86a8" fill-rule="evenodd"/>
<path transform="translate(943.96,423.54) scale(0.05964)" d="M154 157a73 73 0 1 0 146 0a73 73 0 1 0 -146 0ZM160 252Q230 236 300 252C352 276 386 332 392 400C396 452 368 488 328 496C300 500 276 490 270 470L262 482C262 506 240 526 200 526C140 522 80 490 65 440C55 390 90 290 160 252ZM232 372a48 48 0 1 0 96 0a48 48 0 1 0 -96 0ZM185 362C200 362 212 380 210 400C225 415 250 425 262 445C268 460 262 472 250 472C220 470 180 462 140 448C132 440 150 432 172 428C180 410 168 380 185 362Z" fill="#4a86a8" fill-rule="evenodd"/>
<path transform="translate(976.06,420.84) scale(0.05964)" d="M154 157a73 73 0 1 0 146 0a73 73 0 1 0 -146 0ZM160 252Q230 236 300 252C352 276 386 332 392 400C396 452 368 488 328 496C300 500 276 490 270 470L262 482C262 506 240 526 200 526C140 522 80 490 65 440C55 390 90 290 160 252ZM232 372a48 48 0 1 0 96 0a48 48 0 1 0 -96 0ZM185 362C200 362 212 380 210 400C225 415 250 425 262 445C268 460 262 472 250 472C220 470 180 462 140 448C132 440 150 432 172 428C180 410 168 380 185 362Z" fill="#4a86a8" fill-rule="evenodd"/>
<path transform="translate(1009.26,420.14) scale(0.05964)" d="M154 157a73 73 0 1 0 146 0a73 73 0 1 0 -146 0ZM160 252Q230 236 300 252C352 276 386 332 392 400C396 452 368 488 328 496C300 500 276 490 270 470L262 482C262 506 240 526 200 526C140 522 80 490 65 440C55 390 90 290 160 252ZM232 372a48 48 0 1 0 96 0a48 48 0 1 0 -96 0ZM185 362C200 362 212 380 210 400C225 415 250 425 262 445C268 460 262 472 250 472C220 470 180 462 140 448C132 440 150 432 172 428C180 410 168 380 185 362Z" fill="#4a86a8" fill-rule="evenodd"/>
<text x="682.7" y="427.4" font-size="15.4" fill="#3e3e3e" font-weight="normal" textLength="28.6" lengthAdjust="spacingAndGlyphs" stroke="#3e3e3e" stroke-width="0.3">28,5</text>
<text x="715.6" y="427.4" font-size="15.4" fill="#3e3e3e" font-weight="normal" textLength="28.3" lengthAdjust="spacingAndGlyphs" stroke="#3e3e3e" stroke-width="0.3">28,8</text>
<text x="748.0" y="427.2" font-size="15.4" fill="#3e3e3e" font-weight="normal" textLength="28.2" lengthAdjust="spacingAndGlyphs" stroke="#3e3e3e" stroke-width="0.3">28,9</text>
<text x="779.3" y="424.9" font-size="15.4" fill="#3e3e3e" font-weight="normal" textLength="30.3" lengthAdjust="spacingAndGlyphs" stroke="#3e3e3e" stroke-width="0.3">29,0</text>
<text x="812.9" y="423.0" font-size="15.4" fill="#3e3e3e" font-weight="normal" textLength="28.5" lengthAdjust="spacingAndGlyphs" stroke="#3e3e3e" stroke-width="0.3">29,2</text>
<text x="845.2" y="420.6" font-size="15.4" fill="#3e3e3e" font-weight="normal" textLength="28.3" lengthAdjust="spacingAndGlyphs" stroke="#3e3e3e" stroke-width="0.3">29,3</text>
<text x="878.6" y="418.5" font-size="15.4" fill="#3e3e3e" font-weight="normal" textLength="27.8" lengthAdjust="spacingAndGlyphs" stroke="#3e3e3e" stroke-width="0.3">29,4</text>
<text x="910.5" y="416.0" font-size="15.4" fill="#3e3e3e" font-weight="normal" textLength="28.3" lengthAdjust="spacingAndGlyphs" stroke="#3e3e3e" stroke-width="0.3">29,6</text>
<text x="942.6" y="413.5" font-size="15.4" fill="#3e3e3e" font-weight="normal" textLength="29.0" lengthAdjust="spacingAndGlyphs" stroke="#3e3e3e" stroke-width="0.3">29,8</text>
<text x="975.4" y="411.5" font-size="15.4" fill="#3e3e3e" font-weight="normal" textLength="28.6" lengthAdjust="spacingAndGlyphs" stroke="#3e3e3e" stroke-width="0.3">30,9</text>
<text x="1009.6" y="409.7" font-size="15.4" fill="#3e3e3e" font-weight="normal" textLength="28.9" lengthAdjust="spacingAndGlyphs" stroke="#3e3e3e" stroke-width="0.3">31,0</text>
<g><rect x="686.70" y="501.40" width="7.00" height="13.10" fill="#3f5fa4"/><rect x="693.70" y="501.40" width="7.00" height="13.10" fill="#ffffff"/><rect x="700.70" y="501.40" width="7.00" height="13.10" fill="#b3202a"/></g>
<g><rect x="719.40" y="501.40" width="7.00" height="13.10" fill="#1f1f1f"/><rect x="726.40" y="501.40" width="7.00" height="13.10" fill="#f6cf1b"/><rect x="733.40" y="501.40" width="7.00" height="13.10" fill="#c2262b"/></g>
<g><rect x="751.80" y="501.40" width="21.00" height="13.10" fill="#4a5f9c"/><g stroke-linecap="butt"><path d="M751.8 501.4L772.8 514.5M772.8 501.4L751.8 514.5" stroke="#fff" stroke-width="2.8"/><path d="M751.8 501.4L772.8 514.5M772.8 501.4L751.8 514.5" stroke="#c8313a" stroke-width="1.1"/><path d="M762.3 501.4V514.5M751.8 507.95H772.8" stroke="#fff" stroke-width="4.6"/><path d="M762.3 501.4V514.5M751.8 507.95H772.8" stroke="#cc2a33" stroke-width="2.7"/></g></g>
<g><rect x="783.30" y="501.40" width="21.00" height="13.10" fill="#f4f8fb"/><rect x="789.18" y="501.40" width="4.20" height="13.10" fill="#2f7fb8"/><rect x="783.30" y="506.12" width="21.00" height="3.67" fill="#2f7fb8"/><rect x="783.60" y="501.70" width="20.40" height="12.50" fill="none" stroke="#c9dbe8" stroke-width="0.6"/></g>
<g><rect x="816.90" y="501.40" width="21.00" height="13.10" fill="#2f86b9"/><rect x="823.20" y="501.40" width="3.57" height="13.10" fill="#e9cf2c"/><rect x="816.90" y="506.38" width="21.00" height="3.14" fill="#e9cf2c"/></g>
<g><rect x="849.40" y="501.40" width="21.00" height="13.10" fill="#cf3038"/><rect x="855.49" y="501.40" width="2.73" height="13.10" fill="#ffffff"/><rect x="849.40" y="506.90" width="21.00" height="2.10" fill="#ffffff"/></g>
<g><rect x="882.10" y="501.40" width="21.00" height="4.37" fill="#1c1c1c"/><rect x="882.10" y="505.77" width="21.00" height="4.37" fill="#d21f1f"/><rect x="882.10" y="510.13" width="21.00" height="4.37" fill="#f7cd1c"/></g>
<g><rect x="915.10" y="501.40" width="8.40" height="13.10" fill="#62a27c"/><rect x="923.50" y="501.40" width="12.60" height="13.10" fill="#cf2a2d"/><circle cx="923.50" cy="507.95" r="3.27" fill="#d9553a" stroke="#f2d13c" stroke-width="1"/></g>
<g><rect x="946.90" y="501.40" width="21.00" height="4.37" fill="#4a6ea6"/><rect x="946.90" y="505.77" width="21.00" height="4.37" fill="#ffffff"/><rect x="946.90" y="510.13" width="21.00" height="4.37" fill="#a8232b"/><rect x="947.20" y="501.70" width="20.40" height="12.50" fill="none" stroke="#d5dde6" stroke-width="0.5"/></g>
<g><rect x="979.90" y="501.40" width="21.00" height="3.27" fill="#c9282b"/><rect x="979.90" y="504.67" width="21.00" height="6.55" fill="#f8cc1b"/><rect x="979.90" y="511.22" width="21.00" height="3.27" fill="#c9282b"/></g>
<g><rect x="1011.70" y="501.40" width="7.00" height="13.10" fill="#6fa785"/><rect x="1018.70" y="501.40" width="7.00" height="13.10" fill="#ffffff"/><rect x="1025.70" y="501.40" width="7.00" height="13.10" fill="#b3202a"/></g>
<text transform="translate(708.3,526.2) rotate(-45)" x="0" y="0" text-anchor="end" font-size="15" fill="#3e3e3e" textLength="46.6" lengthAdjust="spacingAndGlyphs">Francia</text>
<text transform="translate(740.7,525.7) rotate(-45)" x="0" y="0" text-anchor="end" font-size="15" fill="#3e3e3e" textLength="48.5" lengthAdjust="spacingAndGlyphs">Bélgica</text>
<text transform="translate(774.8,524.7) rotate(-45)" x="0" y="0" text-anchor="end" font-size="15" fill="#3e3e3e" textLength="55.8" lengthAdjust="spacingAndGlyphs">R. Unido</text>
<text transform="translate(810.7,524.7) rotate(-45)" x="0" y="0" text-anchor="end" font-size="15" fill="#3e3e3e" textLength="61.5" lengthAdjust="spacingAndGlyphs">Finlandia</text>
<text transform="translate(837.0,525.2) rotate(-45)" x="0" y="0" text-anchor="end" font-size="15" fill="#3e3e3e" textLength="43.5" lengthAdjust="spacingAndGlyphs">Suecia</text>
<text transform="translate(879.8,525.2) rotate(-45)" x="0" y="0" text-anchor="end" font-size="15" fill="#3e3e3e" textLength="70" lengthAdjust="spacingAndGlyphs">Dinamarca</text>
<text transform="translate(909.5,525.7) rotate(-45)" x="0" y="0" text-anchor="end" font-size="15" fill="#3e3e3e" textLength="61" lengthAdjust="spacingAndGlyphs">Alemania</text>
<text transform="translate(940.2,523.9) rotate(-45)" x="0" y="0" text-anchor="end" font-size="15" fill="#3e3e3e" textLength="57.5" lengthAdjust="spacingAndGlyphs">Portugal</text>
<text transform="translate(973.4,525.7) rotate(-45)" x="0" y="0" text-anchor="end" font-size="15" fill="#3e3e3e" textLength="55.5" lengthAdjust="spacingAndGlyphs">Holanda</text>
<text transform="translate(1002.3,525.2) rotate(-45)" x="0" y="0" text-anchor="end" font-size="15" fill="#3e3e3e" textLength="46.5" lengthAdjust="spacingAndGlyphs">España</text>
<text transform="translate(1031.0,524.2) rotate(-45)" x="0" y="0" text-anchor="end" font-size="15" fill="#3e3e3e" textLength="33" lengthAdjust="spacingAndGlyphs">Italia</text>
</svg>
</body>
</html>
